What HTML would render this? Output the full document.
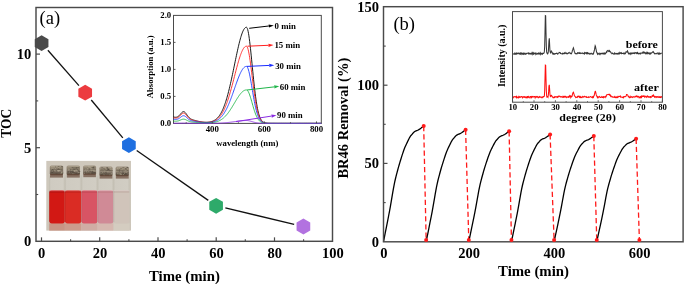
<!DOCTYPE html>
<html><head><meta charset="utf-8"><style>
html,body{margin:0;padding:0;background:#fff;}
svg{display:block;font-family:"Liberation Serif", serif;will-change:transform;}
</style></head><body>
<svg width="685" height="284" viewBox="0 0 685 284">
<rect width="685" height="284" fill="#fff"/>
<defs><linearGradient id="bg" x1="0" y1="0" x2="0" y2="1"><stop offset="0" stop-color="#cfc8bc"/><stop offset="0.5" stop-color="#cdc8bc"/><stop offset="1" stop-color="#cdc6ba"/></linearGradient><linearGradient id="gl" x1="0" y1="0" x2="1" y2="0"><stop offset="0" stop-color="#c0bcb0"/><stop offset="0.1" stop-color="#cfcbc1"/><stop offset="0.88" stop-color="#d1cdc3"/><stop offset="1" stop-color="#c4c0b4"/></linearGradient><linearGradient id="cap" x1="0" y1="0" x2="0" y2="1"><stop offset="0" stop-color="#9c9080"/><stop offset="0.3" stop-color="#8e8270"/><stop offset="0.55" stop-color="#83776a"/><stop offset="0.8" stop-color="#6a5e50"/><stop offset="1" stop-color="#665044"/></linearGradient></defs>
<rect x="46.3" y="160.9" width="84.7" height="69.7" fill="url(#bg)"/>
<rect x="49.2" y="223.2" width="15.7" height="7.4" fill="#c89484"/>
<rect x="49.2" y="174.7" width="15.7" height="48.4" rx="2" fill="url(#gl)"/>
<rect x="49.2" y="190.5" width="15.7" height="32.9" rx="2.6" fill="#d21814"/>
<rect x="49.5" y="190.5" width="15.1" height="0.9" fill="#e86068"/>
<rect x="49.5" y="191.4" width="15.1" height="1.1" fill="#a81010" opacity="0.8"/>
<rect x="49.2" y="191" width="0.8" height="31" fill="#000" opacity="0.08"/>
<rect x="49.8" y="165.5" width="13.4" height="9.7" rx="1.6" fill="url(#cap)"/>
<rect x="50.6" y="166.3" width="11.8" height="0.9" fill="#b8ae98" opacity="0.6"/>
<rect x="50.6" y="168.9" width="11.8" height="0.9" fill="#5e5648" opacity="0.3"/>
<rect x="50.6" y="170.3" width="11.8" height="0.9" fill="#aca28c" opacity="0.45"/>
<rect x="50.6" y="172.5" width="11.8" height="0.9" fill="#4e4034" opacity="0.4"/>
<rect x="55.5" y="170.3" width="1.3" height="0.7" fill="#52483c" opacity="0.6"/>
<rect x="60.2" y="167.5" width="1.3" height="0.7" fill="#a89e86" opacity="0.6"/>
<rect x="57.4" y="167.4" width="1.1" height="0.7" fill="#52483c" opacity="0.6"/>
<rect x="51.4" y="172.2" width="1.5" height="0.7" fill="#3a342c" opacity="0.6"/>
<rect x="57.2" y="169.1" width="1.6" height="0.7" fill="#52483c" opacity="0.6"/>
<rect x="57.4" y="167.2" width="1.8" height="0.7" fill="#cac0a8" opacity="0.6"/>
<rect x="51.0" y="166.3" width="1.5" height="0.7" fill="#b8ae96" opacity="0.6"/>
<rect x="59.3" y="168.5" width="1.8" height="0.7" fill="#a89e86" opacity="0.6"/>
<rect x="56.3" y="170.9" width="0.7" height="0.7" fill="#52483c" opacity="0.6"/>
<rect x="51.3" y="171.0" width="2.0" height="0.7" fill="#52483c" opacity="0.6"/>
<rect x="61.9" y="172.5" width="1.0" height="0.7" fill="#3a342c" opacity="0.6"/>
<rect x="59.1" y="169.9" width="0.8" height="0.7" fill="#cac0a8" opacity="0.6"/>
<rect x="59.2" y="169.1" width="1.2" height="0.7" fill="#463e32" opacity="0.6"/>
<rect x="61.4" y="172.5" width="1.0" height="0.7" fill="#cac0a8" opacity="0.6"/>
<rect x="61.1" y="166.4" width="2.0" height="0.7" fill="#52483c" opacity="0.6"/>
<rect x="54.9" y="166.6" width="1.0" height="0.7" fill="#3a342c" opacity="0.6"/>
<rect x="58.1" y="168.6" width="1.1" height="0.7" fill="#463e32" opacity="0.6"/>
<rect x="61.5" y="171.8" width="0.9" height="0.7" fill="#cac0a8" opacity="0.6"/>
<rect x="58.5" y="166.1" width="1.7" height="0.7" fill="#52483c" opacity="0.6"/>
<rect x="52.4" y="170.3" width="1.4" height="0.7" fill="#52483c" opacity="0.6"/>
<rect x="61.7" y="171.9" width="1.5" height="0.7" fill="#52483c" opacity="0.6"/>
<rect x="51.7" y="169.2" width="0.7" height="0.7" fill="#b8ae96" opacity="0.6"/>
<rect x="60.3" y="173.5" width="1.1" height="0.7" fill="#a89e86" opacity="0.6"/>
<rect x="60.6" y="167.6" width="2.0" height="0.7" fill="#52483c" opacity="0.6"/>
<rect x="57.3" y="170.4" width="2.0" height="0.7" fill="#cac0a8" opacity="0.6"/>
<rect x="52.8" y="168.0" width="1.1" height="0.7" fill="#a89e86" opacity="0.6"/>
<rect x="53.7" y="166.6" width="1.0" height="0.7" fill="#cac0a8" opacity="0.6"/>
<rect x="57.7" y="166.1" width="1.2" height="0.7" fill="#463e32" opacity="0.6"/>
<rect x="55.6" y="173.4" width="1.8" height="0.7" fill="#52483c" opacity="0.6"/>
<rect x="51.9" y="169.0" width="0.9" height="0.7" fill="#3a342c" opacity="0.6"/>
<rect x="60.8" y="172.3" width="1.6" height="0.7" fill="#b8ae96" opacity="0.6"/>
<rect x="52.1" y="170.8" width="1.0" height="0.7" fill="#a89e86" opacity="0.6"/>
<rect x="61.3" y="172.8" width="0.8" height="0.7" fill="#a89e86" opacity="0.6"/>
<rect x="50.8" y="166.8" width="2.0" height="0.7" fill="#a89e86" opacity="0.6"/>
<rect x="53.1" y="171.4" width="1.2" height="0.7" fill="#463e32" opacity="0.6"/>
<rect x="60.8" y="169.8" width="0.9" height="0.7" fill="#a89e86" opacity="0.6"/>
<rect x="58.7" y="166.5" width="1.3" height="0.7" fill="#b8ae96" opacity="0.6"/>
<rect x="57.9" y="170.7" width="1.1" height="0.7" fill="#cac0a8" opacity="0.6"/>
<rect x="60.9" y="167.6" width="0.8" height="0.7" fill="#cac0a8" opacity="0.6"/>
<rect x="55.1" y="167.9" width="0.9" height="0.7" fill="#cac0a8" opacity="0.6"/>
<rect x="54.6" y="170.4" width="0.8" height="0.7" fill="#b8ae96" opacity="0.6"/>
<rect x="51.9" y="169.5" width="1.6" height="0.7" fill="#463e32" opacity="0.6"/>
<rect x="58.3" y="170.5" width="1.5" height="0.7" fill="#b8ae96" opacity="0.6"/>
<rect x="61.0" y="169.7" width="1.6" height="0.7" fill="#463e32" opacity="0.6"/>
<rect x="61.5" y="166.2" width="0.8" height="0.7" fill="#3a342c" opacity="0.6"/>
<rect x="51.1" y="168.4" width="2.0" height="0.7" fill="#b8ae96" opacity="0.6"/>
<rect x="51.2" y="170.2" width="0.8" height="0.7" fill="#3a342c" opacity="0.6"/>
<rect x="61.2" y="171.7" width="1.7" height="0.7" fill="#b8ae96" opacity="0.6"/>
<rect x="50.0" y="174.2" width="13.0" height="3.4" fill="#604030" opacity="0.65"/>
<rect x="64.9" y="223.2" width="16.4" height="7.4" fill="#cc9c8c"/>
<rect x="64.9" y="174.7" width="16.4" height="48.4" rx="2" fill="url(#gl)"/>
<rect x="64.9" y="190.5" width="16.4" height="32.9" rx="2.6" fill="#da2c24"/>
<rect x="65.2" y="190.5" width="15.8" height="0.9" fill="#ea6a6a"/>
<rect x="65.2" y="191.4" width="15.8" height="1.1" fill="#b41c18" opacity="0.8"/>
<rect x="64.9" y="191" width="0.8" height="31" fill="#000" opacity="0.08"/>
<rect x="66.6" y="165.5" width="13.4" height="9.7" rx="1.6" fill="url(#cap)"/>
<rect x="67.4" y="166.3" width="11.8" height="0.9" fill="#b8ae98" opacity="0.6"/>
<rect x="67.4" y="168.9" width="11.8" height="0.9" fill="#5e5648" opacity="0.3"/>
<rect x="67.4" y="170.3" width="11.8" height="0.9" fill="#aca28c" opacity="0.45"/>
<rect x="67.4" y="172.5" width="11.8" height="0.9" fill="#4e4034" opacity="0.4"/>
<rect x="72.6" y="171.1" width="1.2" height="0.7" fill="#3a342c" opacity="0.6"/>
<rect x="71.5" y="173.7" width="1.1" height="0.7" fill="#52483c" opacity="0.6"/>
<rect x="76.5" y="171.3" width="1.0" height="0.7" fill="#a89e86" opacity="0.6"/>
<rect x="67.1" y="170.8" width="1.2" height="0.7" fill="#52483c" opacity="0.6"/>
<rect x="71.0" y="167.6" width="1.8" height="0.7" fill="#a89e86" opacity="0.6"/>
<rect x="68.0" y="171.3" width="1.6" height="0.7" fill="#463e32" opacity="0.6"/>
<rect x="76.4" y="166.7" width="1.8" height="0.7" fill="#cac0a8" opacity="0.6"/>
<rect x="74.8" y="167.7" width="1.9" height="0.7" fill="#52483c" opacity="0.6"/>
<rect x="68.4" y="169.3" width="1.4" height="0.7" fill="#b8ae96" opacity="0.6"/>
<rect x="77.3" y="170.3" width="1.9" height="0.7" fill="#3a342c" opacity="0.6"/>
<rect x="73.5" y="169.9" width="1.2" height="0.7" fill="#cac0a8" opacity="0.6"/>
<rect x="72.0" y="170.6" width="1.5" height="0.7" fill="#52483c" opacity="0.6"/>
<rect x="73.4" y="170.9" width="2.0" height="0.7" fill="#cac0a8" opacity="0.6"/>
<rect x="78.4" y="171.1" width="1.9" height="0.7" fill="#463e32" opacity="0.6"/>
<rect x="77.1" y="169.0" width="0.8" height="0.7" fill="#463e32" opacity="0.6"/>
<rect x="69.8" y="168.8" width="1.4" height="0.7" fill="#a89e86" opacity="0.6"/>
<rect x="76.0" y="167.4" width="1.8" height="0.7" fill="#52483c" opacity="0.6"/>
<rect x="72.1" y="170.0" width="1.6" height="0.7" fill="#b8ae96" opacity="0.6"/>
<rect x="67.6" y="167.6" width="0.8" height="0.7" fill="#a89e86" opacity="0.6"/>
<rect x="73.5" y="167.4" width="1.1" height="0.7" fill="#3a342c" opacity="0.6"/>
<rect x="72.1" y="169.8" width="1.5" height="0.7" fill="#a89e86" opacity="0.6"/>
<rect x="67.7" y="169.5" width="1.1" height="0.7" fill="#b8ae96" opacity="0.6"/>
<rect x="72.4" y="171.4" width="1.0" height="0.7" fill="#52483c" opacity="0.6"/>
<rect x="78.6" y="169.6" width="1.2" height="0.7" fill="#a89e86" opacity="0.6"/>
<rect x="69.3" y="171.8" width="0.7" height="0.7" fill="#a89e86" opacity="0.6"/>
<rect x="70.2" y="171.9" width="0.9" height="0.7" fill="#463e32" opacity="0.6"/>
<rect x="76.3" y="169.9" width="1.5" height="0.7" fill="#b8ae96" opacity="0.6"/>
<rect x="78.5" y="173.7" width="0.9" height="0.7" fill="#a89e86" opacity="0.6"/>
<rect x="77.9" y="172.8" width="1.8" height="0.7" fill="#3a342c" opacity="0.6"/>
<rect x="74.5" y="167.8" width="1.4" height="0.7" fill="#a89e86" opacity="0.6"/>
<rect x="72.8" y="168.7" width="1.9" height="0.7" fill="#3a342c" opacity="0.6"/>
<rect x="77.5" y="167.2" width="1.5" height="0.7" fill="#463e32" opacity="0.6"/>
<rect x="67.6" y="168.5" width="1.5" height="0.7" fill="#a89e86" opacity="0.6"/>
<rect x="72.3" y="172.1" width="1.1" height="0.7" fill="#3a342c" opacity="0.6"/>
<rect x="70.1" y="171.3" width="0.7" height="0.7" fill="#3a342c" opacity="0.6"/>
<rect x="73.6" y="168.0" width="1.0" height="0.7" fill="#b8ae96" opacity="0.6"/>
<rect x="72.1" y="173.5" width="1.4" height="0.7" fill="#a89e86" opacity="0.6"/>
<rect x="75.4" y="173.2" width="1.7" height="0.7" fill="#463e32" opacity="0.6"/>
<rect x="71.9" y="170.5" width="1.7" height="0.7" fill="#52483c" opacity="0.6"/>
<rect x="73.8" y="168.7" width="1.5" height="0.7" fill="#463e32" opacity="0.6"/>
<rect x="71.6" y="167.2" width="1.6" height="0.7" fill="#3a342c" opacity="0.6"/>
<rect x="77.6" y="172.1" width="1.9" height="0.7" fill="#cac0a8" opacity="0.6"/>
<rect x="73.3" y="172.1" width="1.7" height="0.7" fill="#52483c" opacity="0.6"/>
<rect x="75.3" y="167.5" width="1.9" height="0.7" fill="#463e32" opacity="0.6"/>
<rect x="75.1" y="170.2" width="1.5" height="0.7" fill="#a89e86" opacity="0.6"/>
<rect x="69.6" y="170.6" width="1.2" height="0.7" fill="#3a342c" opacity="0.6"/>
<rect x="70.0" y="169.1" width="0.8" height="0.7" fill="#463e32" opacity="0.6"/>
<rect x="71.0" y="171.3" width="1.1" height="0.7" fill="#3a342c" opacity="0.6"/>
<rect x="66.8" y="174.2" width="13.0" height="3.4" fill="#604030" opacity="0.65"/>
<rect x="81.3" y="223.2" width="16.2" height="7.4" fill="#d0aca4"/>
<rect x="81.3" y="174.3" width="16.2" height="48.8" rx="2" fill="url(#gl)"/>
<rect x="81.3" y="190.5" width="16.2" height="32.9" rx="2.6" fill="#d85464"/>
<rect x="81.6" y="190.5" width="15.6" height="0.9" fill="#ea8a98"/>
<rect x="81.6" y="191.4" width="15.6" height="1.1" fill="#b8404c" opacity="0.8"/>
<rect x="81.3" y="191" width="0.8" height="31" fill="#000" opacity="0.08"/>
<rect x="83.1" y="165.4" width="13.0" height="9.4" rx="1.6" fill="url(#cap)"/>
<rect x="83.9" y="166.2" width="11.4" height="0.9" fill="#b8ae98" opacity="0.6"/>
<rect x="83.9" y="168.8" width="11.4" height="0.9" fill="#5e5648" opacity="0.3"/>
<rect x="83.9" y="170.2" width="11.4" height="0.9" fill="#aca28c" opacity="0.45"/>
<rect x="83.9" y="172.4" width="11.4" height="0.9" fill="#4e4034" opacity="0.4"/>
<rect x="86.5" y="171.0" width="1.7" height="0.7" fill="#3a342c" opacity="0.6"/>
<rect x="93.6" y="170.7" width="0.9" height="0.7" fill="#3a342c" opacity="0.6"/>
<rect x="86.1" y="171.3" width="0.8" height="0.7" fill="#b8ae96" opacity="0.6"/>
<rect x="93.1" y="171.4" width="1.3" height="0.7" fill="#cac0a8" opacity="0.6"/>
<rect x="93.0" y="170.4" width="2.0" height="0.7" fill="#cac0a8" opacity="0.6"/>
<rect x="92.9" y="166.5" width="1.8" height="0.7" fill="#463e32" opacity="0.6"/>
<rect x="91.9" y="172.9" width="1.2" height="0.7" fill="#463e32" opacity="0.6"/>
<rect x="86.2" y="172.5" width="1.4" height="0.7" fill="#a89e86" opacity="0.6"/>
<rect x="88.4" y="168.6" width="1.5" height="0.7" fill="#52483c" opacity="0.6"/>
<rect x="90.9" y="168.5" width="1.7" height="0.7" fill="#a89e86" opacity="0.6"/>
<rect x="94.6" y="171.0" width="1.5" height="0.7" fill="#a89e86" opacity="0.6"/>
<rect x="94.7" y="169.2" width="1.3" height="0.7" fill="#3a342c" opacity="0.6"/>
<rect x="85.6" y="167.4" width="1.2" height="0.7" fill="#a89e86" opacity="0.6"/>
<rect x="87.8" y="167.8" width="1.2" height="0.7" fill="#463e32" opacity="0.6"/>
<rect x="85.1" y="169.5" width="1.4" height="0.7" fill="#b8ae96" opacity="0.6"/>
<rect x="93.5" y="171.1" width="0.8" height="0.7" fill="#b8ae96" opacity="0.6"/>
<rect x="90.9" y="173.0" width="0.7" height="0.7" fill="#52483c" opacity="0.6"/>
<rect x="88.4" y="172.3" width="0.9" height="0.7" fill="#b8ae96" opacity="0.6"/>
<rect x="92.6" y="172.1" width="1.0" height="0.7" fill="#3a342c" opacity="0.6"/>
<rect x="91.8" y="171.3" width="1.9" height="0.7" fill="#463e32" opacity="0.6"/>
<rect x="92.6" y="167.4" width="1.2" height="0.7" fill="#3a342c" opacity="0.6"/>
<rect x="91.6" y="166.9" width="1.5" height="0.7" fill="#3a342c" opacity="0.6"/>
<rect x="91.7" y="167.5" width="0.8" height="0.7" fill="#a89e86" opacity="0.6"/>
<rect x="91.5" y="166.2" width="1.6" height="0.7" fill="#a89e86" opacity="0.6"/>
<rect x="87.4" y="168.1" width="1.7" height="0.7" fill="#b8ae96" opacity="0.6"/>
<rect x="89.8" y="172.6" width="0.8" height="0.7" fill="#b8ae96" opacity="0.6"/>
<rect x="90.8" y="170.0" width="1.6" height="0.7" fill="#a89e86" opacity="0.6"/>
<rect x="94.5" y="172.0" width="0.8" height="0.7" fill="#3a342c" opacity="0.6"/>
<rect x="83.6" y="173.3" width="1.2" height="0.7" fill="#cac0a8" opacity="0.6"/>
<rect x="93.8" y="170.1" width="0.8" height="0.7" fill="#3a342c" opacity="0.6"/>
<rect x="88.9" y="168.6" width="0.7" height="0.7" fill="#cac0a8" opacity="0.6"/>
<rect x="87.3" y="169.6" width="1.4" height="0.7" fill="#a89e86" opacity="0.6"/>
<rect x="88.9" y="170.9" width="1.7" height="0.7" fill="#463e32" opacity="0.6"/>
<rect x="87.8" y="171.2" width="1.7" height="0.7" fill="#b8ae96" opacity="0.6"/>
<rect x="86.5" y="171.0" width="1.0" height="0.7" fill="#b8ae96" opacity="0.6"/>
<rect x="90.2" y="168.5" width="1.5" height="0.7" fill="#b8ae96" opacity="0.6"/>
<rect x="88.4" y="170.6" width="0.7" height="0.7" fill="#52483c" opacity="0.6"/>
<rect x="88.1" y="166.5" width="1.5" height="0.7" fill="#cac0a8" opacity="0.6"/>
<rect x="83.6" y="171.6" width="1.3" height="0.7" fill="#b8ae96" opacity="0.6"/>
<rect x="94.7" y="168.8" width="1.1" height="0.7" fill="#cac0a8" opacity="0.6"/>
<rect x="88.5" y="166.9" width="0.8" height="0.7" fill="#cac0a8" opacity="0.6"/>
<rect x="92.8" y="167.5" width="1.5" height="0.7" fill="#463e32" opacity="0.6"/>
<rect x="86.9" y="168.5" width="1.2" height="0.7" fill="#cac0a8" opacity="0.6"/>
<rect x="88.5" y="172.4" width="0.8" height="0.7" fill="#52483c" opacity="0.6"/>
<rect x="89.6" y="166.9" width="1.1" height="0.7" fill="#cac0a8" opacity="0.6"/>
<rect x="93.6" y="169.9" width="1.9" height="0.7" fill="#b8ae96" opacity="0.6"/>
<rect x="93.6" y="172.7" width="0.9" height="0.7" fill="#3a342c" opacity="0.6"/>
<rect x="89.0" y="168.7" width="1.0" height="0.7" fill="#463e32" opacity="0.6"/>
<rect x="83.3" y="173.8" width="12.6" height="3.4" fill="#604030" opacity="0.65"/>
<rect x="97.5" y="223.2" width="16.0" height="7.4" fill="#d6b8b0"/>
<rect x="97.5" y="175.7" width="16.0" height="47.4" rx="2" fill="url(#gl)"/>
<rect x="97.5" y="190.5" width="16.0" height="32.9" rx="2.6" fill="#d08a96"/>
<rect x="97.8" y="190.5" width="15.4" height="0.9" fill="#e4b0b8"/>
<rect x="97.8" y="191.4" width="15.4" height="1.1" fill="#b87078" opacity="0.8"/>
<rect x="97.5" y="191" width="0.8" height="31" fill="#000" opacity="0.08"/>
<rect x="99.4" y="166.6" width="13.2" height="9.6" rx="1.6" fill="url(#cap)"/>
<rect x="100.2" y="167.4" width="11.6" height="0.9" fill="#b8ae98" opacity="0.6"/>
<rect x="100.2" y="170.0" width="11.6" height="0.9" fill="#5e5648" opacity="0.3"/>
<rect x="100.2" y="171.4" width="11.6" height="0.9" fill="#aca28c" opacity="0.45"/>
<rect x="100.2" y="173.6" width="11.6" height="0.9" fill="#4e4034" opacity="0.4"/>
<rect x="101.1" y="172.4" width="1.4" height="0.7" fill="#3a342c" opacity="0.6"/>
<rect x="102.7" y="172.7" width="1.7" height="0.7" fill="#463e32" opacity="0.6"/>
<rect x="107.4" y="169.4" width="1.8" height="0.7" fill="#3a342c" opacity="0.6"/>
<rect x="104.4" y="174.0" width="1.0" height="0.7" fill="#463e32" opacity="0.6"/>
<rect x="110.2" y="169.8" width="1.2" height="0.7" fill="#463e32" opacity="0.6"/>
<rect x="107.1" y="171.0" width="1.4" height="0.7" fill="#b8ae96" opacity="0.6"/>
<rect x="107.5" y="168.4" width="0.8" height="0.7" fill="#3a342c" opacity="0.6"/>
<rect x="106.7" y="167.3" width="1.0" height="0.7" fill="#463e32" opacity="0.6"/>
<rect x="111.0" y="170.2" width="1.9" height="0.7" fill="#52483c" opacity="0.6"/>
<rect x="101.0" y="172.0" width="1.5" height="0.7" fill="#cac0a8" opacity="0.6"/>
<rect x="107.2" y="169.9" width="1.7" height="0.7" fill="#cac0a8" opacity="0.6"/>
<rect x="105.4" y="172.2" width="1.3" height="0.7" fill="#463e32" opacity="0.6"/>
<rect x="102.4" y="173.2" width="1.0" height="0.7" fill="#a89e86" opacity="0.6"/>
<rect x="101.3" y="174.7" width="1.1" height="0.7" fill="#463e32" opacity="0.6"/>
<rect x="100.2" y="172.7" width="1.6" height="0.7" fill="#cac0a8" opacity="0.6"/>
<rect x="106.6" y="170.3" width="0.9" height="0.7" fill="#3a342c" opacity="0.6"/>
<rect x="104.3" y="169.5" width="1.3" height="0.7" fill="#52483c" opacity="0.6"/>
<rect x="106.7" y="167.8" width="1.2" height="0.7" fill="#52483c" opacity="0.6"/>
<rect x="105.0" y="171.8" width="0.8" height="0.7" fill="#52483c" opacity="0.6"/>
<rect x="101.5" y="172.4" width="1.3" height="0.7" fill="#a89e86" opacity="0.6"/>
<rect x="109.3" y="170.2" width="0.7" height="0.7" fill="#52483c" opacity="0.6"/>
<rect x="108.0" y="169.9" width="1.0" height="0.7" fill="#52483c" opacity="0.6"/>
<rect x="103.3" y="168.5" width="1.4" height="0.7" fill="#3a342c" opacity="0.6"/>
<rect x="109.0" y="167.8" width="0.7" height="0.7" fill="#cac0a8" opacity="0.6"/>
<rect x="103.5" y="174.6" width="1.4" height="0.7" fill="#a89e86" opacity="0.6"/>
<rect x="105.8" y="173.2" width="0.8" height="0.7" fill="#463e32" opacity="0.6"/>
<rect x="110.8" y="173.0" width="1.0" height="0.7" fill="#cac0a8" opacity="0.6"/>
<rect x="109.9" y="169.1" width="1.0" height="0.7" fill="#b8ae96" opacity="0.6"/>
<rect x="107.7" y="169.6" width="1.7" height="0.7" fill="#3a342c" opacity="0.6"/>
<rect x="104.1" y="171.4" width="1.7" height="0.7" fill="#a89e86" opacity="0.6"/>
<rect x="108.9" y="168.3" width="1.8" height="0.7" fill="#3a342c" opacity="0.6"/>
<rect x="104.1" y="170.0" width="1.4" height="0.7" fill="#52483c" opacity="0.6"/>
<rect x="108.7" y="169.5" width="0.7" height="0.7" fill="#a89e86" opacity="0.6"/>
<rect x="107.2" y="170.4" width="0.8" height="0.7" fill="#463e32" opacity="0.6"/>
<rect x="109.1" y="168.1" width="1.6" height="0.7" fill="#cac0a8" opacity="0.6"/>
<rect x="101.5" y="169.1" width="0.9" height="0.7" fill="#52483c" opacity="0.6"/>
<rect x="110.1" y="167.5" width="1.0" height="0.7" fill="#cac0a8" opacity="0.6"/>
<rect x="104.1" y="170.3" width="1.3" height="0.7" fill="#b8ae96" opacity="0.6"/>
<rect x="100.9" y="173.2" width="0.9" height="0.7" fill="#b8ae96" opacity="0.6"/>
<rect x="107.5" y="168.8" width="1.8" height="0.7" fill="#3a342c" opacity="0.6"/>
<rect x="109.2" y="174.7" width="1.6" height="0.7" fill="#a89e86" opacity="0.6"/>
<rect x="106.3" y="167.5" width="1.3" height="0.7" fill="#52483c" opacity="0.6"/>
<rect x="110.8" y="169.6" width="1.8" height="0.7" fill="#cac0a8" opacity="0.6"/>
<rect x="100.6" y="172.3" width="1.4" height="0.7" fill="#3a342c" opacity="0.6"/>
<rect x="101.0" y="173.7" width="1.8" height="0.7" fill="#52483c" opacity="0.6"/>
<rect x="101.2" y="167.5" width="1.9" height="0.7" fill="#3a342c" opacity="0.6"/>
<rect x="100.7" y="173.1" width="0.8" height="0.7" fill="#463e32" opacity="0.6"/>
<rect x="111.1" y="173.8" width="0.7" height="0.7" fill="#b8ae96" opacity="0.6"/>
<rect x="99.6" y="175.2" width="12.8" height="3.4" fill="#604030" opacity="0.65"/>
<rect x="113.5" y="223.2" width="16.1" height="7.4" fill="#d4ccc0"/>
<rect x="113.5" y="175.7" width="16.1" height="47.4" rx="2" fill="url(#gl)"/>
<rect x="113.5" y="190.5" width="16.1" height="32.9" rx="2.6" fill="#d0c4ba"/>
<rect x="113.8" y="190.5" width="15.5" height="0.9" fill="#dccac6"/>
<rect x="113.8" y="191.4" width="15.5" height="1.1" fill="#b8a49c" opacity="0.8"/>
<rect x="113.5" y="191" width="0.8" height="31" fill="#000" opacity="0.08"/>
<rect x="115.6" y="166.6" width="13.3" height="9.6" rx="1.6" fill="url(#cap)"/>
<rect x="116.4" y="167.4" width="11.7" height="0.9" fill="#b8ae98" opacity="0.6"/>
<rect x="116.4" y="170.0" width="11.7" height="0.9" fill="#5e5648" opacity="0.3"/>
<rect x="116.4" y="171.4" width="11.7" height="0.9" fill="#aca28c" opacity="0.45"/>
<rect x="116.4" y="173.6" width="11.7" height="0.9" fill="#4e4034" opacity="0.4"/>
<rect x="127.2" y="167.2" width="0.7" height="0.7" fill="#3a342c" opacity="0.6"/>
<rect x="126.6" y="168.9" width="1.8" height="0.7" fill="#cac0a8" opacity="0.6"/>
<rect x="123.9" y="173.6" width="1.0" height="0.7" fill="#463e32" opacity="0.6"/>
<rect x="120.0" y="172.5" width="1.2" height="0.7" fill="#463e32" opacity="0.6"/>
<rect x="120.1" y="174.2" width="1.8" height="0.7" fill="#b8ae96" opacity="0.6"/>
<rect x="125.3" y="168.8" width="1.4" height="0.7" fill="#3a342c" opacity="0.6"/>
<rect x="118.8" y="170.6" width="1.3" height="0.7" fill="#52483c" opacity="0.6"/>
<rect x="121.4" y="173.2" width="1.4" height="0.7" fill="#52483c" opacity="0.6"/>
<rect x="126.8" y="172.0" width="1.7" height="0.7" fill="#52483c" opacity="0.6"/>
<rect x="125.4" y="167.6" width="1.0" height="0.7" fill="#cac0a8" opacity="0.6"/>
<rect x="122.2" y="171.8" width="1.8" height="0.7" fill="#3a342c" opacity="0.6"/>
<rect x="116.3" y="171.1" width="1.9" height="0.7" fill="#b8ae96" opacity="0.6"/>
<rect x="117.2" y="168.0" width="0.8" height="0.7" fill="#cac0a8" opacity="0.6"/>
<rect x="124.4" y="174.1" width="1.2" height="0.7" fill="#463e32" opacity="0.6"/>
<rect x="121.9" y="168.5" width="1.2" height="0.7" fill="#a89e86" opacity="0.6"/>
<rect x="118.8" y="169.5" width="1.1" height="0.7" fill="#3a342c" opacity="0.6"/>
<rect x="126.5" y="169.7" width="1.7" height="0.7" fill="#52483c" opacity="0.6"/>
<rect x="124.8" y="173.5" width="1.3" height="0.7" fill="#463e32" opacity="0.6"/>
<rect x="117.4" y="170.8" width="0.7" height="0.7" fill="#52483c" opacity="0.6"/>
<rect x="119.1" y="174.5" width="1.1" height="0.7" fill="#cac0a8" opacity="0.6"/>
<rect x="116.6" y="173.9" width="0.9" height="0.7" fill="#463e32" opacity="0.6"/>
<rect x="121.8" y="170.8" width="0.8" height="0.7" fill="#52483c" opacity="0.6"/>
<rect x="116.8" y="173.5" width="1.9" height="0.7" fill="#a89e86" opacity="0.6"/>
<rect x="118.8" y="172.8" width="1.6" height="0.7" fill="#52483c" opacity="0.6"/>
<rect x="119.0" y="167.7" width="0.8" height="0.7" fill="#cac0a8" opacity="0.6"/>
<rect x="124.8" y="173.4" width="1.2" height="0.7" fill="#52483c" opacity="0.6"/>
<rect x="123.2" y="172.5" width="1.3" height="0.7" fill="#a89e86" opacity="0.6"/>
<rect x="122.4" y="167.3" width="1.9" height="0.7" fill="#52483c" opacity="0.6"/>
<rect x="126.4" y="167.2" width="1.9" height="0.7" fill="#3a342c" opacity="0.6"/>
<rect x="123.2" y="174.0" width="0.9" height="0.7" fill="#cac0a8" opacity="0.6"/>
<rect x="119.0" y="174.6" width="1.1" height="0.7" fill="#463e32" opacity="0.6"/>
<rect x="118.9" y="171.6" width="1.1" height="0.7" fill="#52483c" opacity="0.6"/>
<rect x="123.1" y="172.4" width="1.9" height="0.7" fill="#463e32" opacity="0.6"/>
<rect x="125.9" y="172.0" width="1.6" height="0.7" fill="#a89e86" opacity="0.6"/>
<rect x="117.3" y="173.4" width="1.2" height="0.7" fill="#a89e86" opacity="0.6"/>
<rect x="126.2" y="173.6" width="0.8" height="0.7" fill="#463e32" opacity="0.6"/>
<rect x="120.1" y="172.7" width="1.5" height="0.7" fill="#a89e86" opacity="0.6"/>
<rect x="122.7" y="168.0" width="0.7" height="0.7" fill="#a89e86" opacity="0.6"/>
<rect x="125.1" y="168.3" width="1.3" height="0.7" fill="#3a342c" opacity="0.6"/>
<rect x="117.9" y="168.6" width="1.4" height="0.7" fill="#a89e86" opacity="0.6"/>
<rect x="124.7" y="169.9" width="2.0" height="0.7" fill="#b8ae96" opacity="0.6"/>
<rect x="123.5" y="171.9" width="1.6" height="0.7" fill="#a89e86" opacity="0.6"/>
<rect x="122.9" y="173.4" width="1.7" height="0.7" fill="#3a342c" opacity="0.6"/>
<rect x="120.0" y="173.7" width="1.6" height="0.7" fill="#a89e86" opacity="0.6"/>
<rect x="120.8" y="169.2" width="1.7" height="0.7" fill="#b8ae96" opacity="0.6"/>
<rect x="120.2" y="168.5" width="1.9" height="0.7" fill="#52483c" opacity="0.6"/>
<rect x="124.1" y="173.1" width="0.8" height="0.7" fill="#cac0a8" opacity="0.6"/>
<rect x="119.0" y="172.8" width="1.7" height="0.7" fill="#cac0a8" opacity="0.6"/>
<rect x="115.8" y="175.2" width="12.9" height="3.4" fill="#604030" opacity="0.65"/>
<line x1="47.87" y1="50.24" x2="78.93" y2="85.56" stroke="#111" stroke-width="1.3"/>
<line x1="91.28" y1="100.00" x2="122.82" y2="137.80" stroke="#111" stroke-width="1.3"/>
<line x1="136.70" y1="150.53" x2="208.30" y2="200.37" stroke="#111" stroke-width="1.3"/>
<line x1="225.34" y1="207.99" x2="294.16" y2="224.31" stroke="#111" stroke-width="1.3"/>
<path d="M41.6 51 L34.76 47.05 L34.76 39.15 L41.6 35.2 L48.44 39.15 L48.44 47.05 Z" fill="#4a4a4a"/>
<path d="M85.2 100.6 L78.36 96.65 L78.36 88.75 L85.2 84.8 L92.04 88.75 L92.04 96.65 Z" fill="#ec3b3f"/>
<path d="M128.9 153 L122.06 149.05 L122.06 141.15 L128.9 137.2 L135.74 141.15 L135.74 149.05 Z" fill="#1f6fe0"/>
<path d="M216.1 213.7 L209.26 209.75 L209.26 201.85 L216.1 197.9 L222.94 201.85 L222.94 209.75 Z" fill="#2eaa6a"/>
<path d="M303.4 234.4 L296.56 230.45 L296.56 222.55 L303.4 218.6 L310.24 222.55 L310.24 230.45 Z" fill="#b272e0"/>
<rect x="36.0" y="7.5" width="296.5" height="233.8" fill="none" stroke="#4a4a4a" stroke-width="1.45"/>
<line x1="36.0" y1="147.7" x2="40.0" y2="147.7" stroke="#4a4a4a" stroke-width="1.2"/>
<line x1="36.0" y1="54.1" x2="40.0" y2="54.1" stroke="#4a4a4a" stroke-width="1.2"/>
<line x1="36.0" y1="194.5" x2="38.2" y2="194.5" stroke="#4a4a4a" stroke-width="1.1"/>
<line x1="36.0" y1="100.9" x2="38.2" y2="100.9" stroke="#4a4a4a" stroke-width="1.1"/>
<line x1="41.5" y1="241.35" x2="41.5" y2="237.35" stroke="#4a4a4a" stroke-width="1.2"/>
<line x1="99.7" y1="241.35" x2="99.7" y2="237.35" stroke="#4a4a4a" stroke-width="1.2"/>
<line x1="158.0" y1="241.35" x2="158.0" y2="237.35" stroke="#4a4a4a" stroke-width="1.2"/>
<line x1="216.2" y1="241.35" x2="216.2" y2="237.35" stroke="#4a4a4a" stroke-width="1.2"/>
<line x1="274.5" y1="241.35" x2="274.5" y2="237.35" stroke="#4a4a4a" stroke-width="1.2"/>
<line x1="70.6" y1="241.35" x2="70.6" y2="239.15" stroke="#4a4a4a" stroke-width="1.1"/>
<line x1="128.9" y1="241.35" x2="128.9" y2="239.15" stroke="#4a4a4a" stroke-width="1.1"/>
<line x1="187.1" y1="241.35" x2="187.1" y2="239.15" stroke="#4a4a4a" stroke-width="1.1"/>
<line x1="245.3" y1="241.35" x2="245.3" y2="239.15" stroke="#4a4a4a" stroke-width="1.1"/>
<line x1="303.6" y1="241.35" x2="303.6" y2="239.15" stroke="#4a4a4a" stroke-width="1.1"/>
<text x="31.2" y="246.3" font-size="14.5" text-anchor="end" font-weight="bold" fill="#000" >0</text>
<text x="31.2" y="152.7" font-size="14.5" text-anchor="end" font-weight="bold" fill="#000" >5</text>
<text x="31.2" y="59.1" font-size="14.5" text-anchor="end" font-weight="bold" fill="#000" >10</text>
<text x="41.7" y="257.8" font-size="14.5" text-anchor="middle" font-weight="bold" fill="#000" >0</text>
<text x="99.94" y="257.8" font-size="14.5" text-anchor="middle" font-weight="bold" fill="#000" >20</text>
<text x="158.18" y="257.8" font-size="14.5" text-anchor="middle" font-weight="bold" fill="#000" >40</text>
<text x="216.42" y="257.8" font-size="14.5" text-anchor="middle" font-weight="bold" fill="#000" >60</text>
<text x="274.66" y="257.8" font-size="14.5" text-anchor="middle" font-weight="bold" fill="#000" >80</text>
<text x="332.9" y="257.8" font-size="14.5" text-anchor="middle" font-weight="bold" fill="#000" >100</text>
<text x="184.4" y="280.5" font-size="14.8" text-anchor="middle" font-weight="bold" fill="#000" >Time (min)</text>
<text transform="translate(11.4,123.3) rotate(-90) scale(0.93,1)" font-size="14.4" text-anchor="middle" font-weight="bold">TOC</text>
<text x="39.6" y="24.3" font-size="18.5" text-anchor="start" font-weight="normal" fill="#000" >(a)</text>
<rect x="173.5" y="15.4" width="147.8" height="108.0" fill="none" stroke="#4a4a4a" stroke-width="1"/>
<g fill="none" stroke-width="0.9">
<path d="M173.49 116.97 L173.88 117.07 L174.27 117.14 L174.66 117.21 L175.05 117.25 L175.44 117.27 L175.83 117.27 L176.22 117.24 L176.61 117.17 L177 117.06 L177.39 116.91 L177.78 116.71 L178.17 116.46 L178.57 116.16 L178.96 115.82 L179.35 115.42 L179.74 114.99 L180.13 114.53 L180.52 114.05 L180.91 113.57 L181.3 113.1 L181.69 112.67 L182.08 112.3 L182.47 111.99 L182.86 111.77 L183.25 111.64 L183.65 111.61 L184.04 111.7 L184.43 111.89 L184.82 112.17 L185.21 112.54 L185.6 112.99 L185.99 113.49 L186.38 114.03 L186.77 114.59 L187.16 115.15 L187.55 115.7 L187.94 116.23 L188.33 116.73 L188.72 117.19 L189.12 117.6 L189.51 117.97 L189.9 118.3 L190.29 118.59 L190.68 118.85 L191.07 119.07 L191.46 119.27 L191.85 119.44 L192.24 119.6 L192.63 119.74 L193.02 119.88 L193.41 120 L193.8 120.12 L194.2 120.23 L194.59 120.34 L194.98 120.45 L195.37 120.56 L195.76 120.66 L196.15 120.76 L196.54 120.86 L196.93 120.96 L197.32 121.05 L197.71 121.15 L198.1 121.24 L198.49 121.33 L198.88 121.41 L199.28 121.49 L199.67 121.57 L200.06 121.65 L200.45 121.72 L200.84 121.79 L201.23 121.85 L201.62 121.91 L202.01 121.97 L202.4 122.02 L202.79 122.07 L203.18 122.11 L203.57 122.14 L203.96 122.18 L204.35 122.21 L204.75 122.23 L205.14 122.25 L205.53 122.26 L205.92 122.26 L206.31 122.27 L206.7 122.26 L207.09 122.25 L207.48 122.23 L207.87 122.21 L208.26 122.17 L208.65 122.13 L209.04 122.09 L209.43 122.03 L209.83 121.97 L210.22 121.89 L210.61 121.81 L211 121.71 L211.39 121.61 L211.78 121.49 L212.17 121.36 L212.56 121.22 L212.95 121.06 L213.34 120.89 L213.73 120.71 L214.12 120.5 L214.51 120.28 L214.91 120.04 L215.3 119.79 L215.69 119.51 L216.08 119.21 L216.47 118.88 L216.86 118.53 L217.25 118.16 L217.64 117.76 L218.03 117.34 L218.42 116.88 L218.81 116.4 L219.2 115.88 L219.59 115.33 L219.98 114.75 L220.38 114.13 L220.77 113.48 L221.16 112.79 L221.55 112.06 L221.94 111.29 L222.33 110.48 L222.72 109.63 L223.11 108.74 L223.5 107.8 L223.89 106.82 L224.28 105.8 L224.67 104.73 L225.06 103.62 L225.46 102.46 L225.85 101.25 L226.24 100 L226.63 98.71 L227.02 97.37 L227.41 95.98 L227.8 94.55 L228.19 93.08 L228.58 91.56 L228.97 90 L229.36 88.41 L229.75 86.77 L230.14 85.1 L230.54 83.39 L230.93 81.65 L231.32 79.89 L231.71 78.09 L232.1 76.27 L232.49 74.43 L232.88 72.57 L233.27 70.7 L233.66 68.81 L234.05 66.92 L234.44 65.02 L234.83 63.12 L235.22 61.23 L235.61 59.34 L236.01 57.47 L236.4 55.61 L236.79 53.78 L237.18 51.97 L237.57 50.19 L237.96 48.45 L238.35 46.74 L238.74 45.08 L239.13 43.48 L239.52 41.92 L239.91 40.42 L240.3 38.98 L240.69 37.61 L241.09 36.31 L241.48 35.09 L241.87 33.94 L242.26 32.87 L242.65 31.89 L243.04 31 L243.43 30.19 L243.82 29.48 L244.21 28.87 L244.6 28.35 L244.99 27.93 L245.38 27.6 L245.77 27.38 L246.17 27.27 L246.56 27.27 L246.95 27.64 L247.34 28.46 L247.73 29.7 L248.12 31.35 L248.51 33.4 L248.9 35.81 L249.29 38.55 L249.68 41.58 L250.07 44.87 L250.46 48.38 L250.85 52.06 L251.24 55.88 L251.64 59.79 L252.03 63.75 L252.42 67.72 L252.81 71.67 L253.2 75.57 L253.59 79.37 L253.98 83.06 L254.37 86.61 L254.76 90.01 L255.15 93.23 L255.54 96.27 L255.93 99.11 L256.32 101.76 L256.72 104.2 L257.11 106.45 L257.5 108.51 L257.89 110.38 L258.28 112.06 L258.67 113.57 L259.06 114.92 L259.45 116.12 L259.84 117.18 L260.23 118.11 L260.62 118.92 L261.01 119.62 L261.4 120.23 L261.8 120.75 L262.19 121.2 L262.58 121.58 L262.97 121.9 L263.36 122.17 L263.75 122.39 L264.14 122.58 L264.53 122.74 L264.92 122.86 L265.31 122.97 L265.7 123.05 L266.09 123.12 L266.48 123.18 L266.87 123.23 L267.27 123.26 L267.66 123.29 L268.05 123.31 L268.44 123.33 L268.83 123.35 L269.22 123.36 L269.61 123.37 L270 123.37 L270.39 123.38 L270.78 123.38 L271.17 123.39 L271.56 123.39 L271.95 123.39 L272.35 123.39 L272.74 123.39 L273.13 123.39 L273.52 123.39 L273.91 123.39 L274.3 123.39 L274.69 123.39 L275.08 123.39 L275.47 123.4 L275.86 123.4 L276.25 123.4 L276.64 123.4 L277.03 123.4 L277.43 123.4 L277.82 123.4 L278.21 123.4 L278.6 123.4 L278.99 123.4 L279.38 123.4 L279.77 123.4 L280.16 123.4 L280.55 123.4 L280.94 123.4 L281.33 123.4 L281.72 123.4 L282.11 123.4 L282.5 123.4 L282.9 123.4 L283.29 123.4 L283.68 123.4 L284.07 123.4 L284.46 123.4 L284.85 123.4 L285.24 123.4 L285.63 123.4 L286.02 123.4 L286.41 123.4 L286.8 123.4 L287.19 123.4 L287.58 123.4 L287.98 123.4 L288.37 123.4 L288.76 123.4 L289.15 123.4 L289.54 123.4 L289.93 123.4 L290.32 123.4 L290.71 123.4 L291.1 123.4 L291.49 123.4 L291.88 123.4 L292.27 123.4 L292.66 123.4 L293.06 123.4 L293.45 123.4 L293.84 123.4 L294.23 123.4 L294.62 123.4 L295.01 123.4 L295.4 123.4 L295.79 123.4 L296.18 123.4 L296.57 123.4 L296.96 123.4 L297.35 123.4 L297.74 123.4 L298.13 123.4 L298.53 123.4 L298.92 123.4 L299.31 123.4 L299.7 123.4 L300.09 123.4 L300.48 123.4 L300.87 123.4 L301.26 123.4 L301.65 123.4 L302.04 123.4 L302.43 123.4 L302.82 123.4 L303.21 123.4 L303.61 123.4 L304 123.4 L304.39 123.4 L304.78 123.4 L305.17 123.4 L305.56 123.4 L305.95 123.4 L306.34 123.4 L306.73 123.4 L307.12 123.4 L307.51 123.4 L307.9 123.4 L308.29 123.4 L308.69 123.4 L309.08 123.4 L309.47 123.4 L309.86 123.4 L310.25 123.4 L310.64 123.4 L311.03 123.4 L311.42 123.4 L311.81 123.4 L312.2 123.4 L312.59 123.4 L312.98 123.4 L313.37 123.4 L313.76 123.4 L314.16 123.4 L314.55 123.4 L314.94 123.4 L315.33 123.4 L315.72 123.4 L316.11 123.4 L316.5 123.4 L316.89 123.4 L317.28 123.4 L317.67 123.4 L318.06 123.4 L318.45 123.4 L318.84 123.4 L319.24 123.4 L319.63 123.4 L320.02 123.4 L320.41 123.4 L320.8 123.4 L321.19 123.4" stroke="#000"/>
<path d="M173.49 117.81 L173.88 117.89 L174.27 117.96 L174.66 118.01 L175.05 118.05 L175.44 118.07 L175.83 118.07 L176.22 118.04 L176.61 117.98 L177 117.88 L177.39 117.75 L177.78 117.58 L178.17 117.36 L178.57 117.11 L178.96 116.8 L179.35 116.46 L179.74 116.08 L180.13 115.68 L180.52 115.26 L180.91 114.85 L181.3 114.44 L181.69 114.07 L182.08 113.74 L182.47 113.47 L182.86 113.28 L183.25 113.17 L183.65 113.15 L184.04 113.22 L184.43 113.38 L184.82 113.63 L185.21 113.96 L185.6 114.34 L185.99 114.78 L186.38 115.25 L186.77 115.73 L187.16 116.22 L187.55 116.7 L187.94 117.16 L188.33 117.6 L188.72 117.99 L189.12 118.35 L189.51 118.68 L189.9 118.96 L190.29 119.22 L190.68 119.44 L191.07 119.63 L191.46 119.8 L191.85 119.96 L192.24 120.09 L192.63 120.22 L193.02 120.33 L193.41 120.44 L193.8 120.55 L194.2 120.64 L194.59 120.74 L194.98 120.83 L195.37 120.93 L195.76 121.02 L196.15 121.11 L196.54 121.19 L196.93 121.28 L197.32 121.36 L197.71 121.44 L198.1 121.52 L198.49 121.6 L198.88 121.67 L199.28 121.74 L199.67 121.81 L200.06 121.88 L200.45 121.94 L200.84 122 L201.23 122.06 L201.62 122.11 L202.01 122.16 L202.4 122.21 L202.79 122.25 L203.18 122.28 L203.57 122.32 L203.96 122.35 L204.35 122.37 L204.75 122.4 L205.14 122.41 L205.53 122.43 L205.92 122.43 L206.31 122.44 L206.7 122.43 L207.09 122.43 L207.48 122.42 L207.87 122.4 L208.26 122.37 L208.65 122.34 L209.04 122.31 L209.43 122.26 L209.83 122.21 L210.22 122.16 L210.61 122.09 L211 122.02 L211.39 121.93 L211.78 121.84 L212.17 121.74 L212.56 121.62 L212.95 121.5 L213.34 121.36 L213.73 121.21 L214.12 121.05 L214.51 120.87 L214.91 120.68 L215.3 120.48 L215.69 120.25 L216.08 120.01 L216.47 119.75 L216.86 119.47 L217.25 119.17 L217.64 118.85 L218.03 118.51 L218.42 118.15 L218.81 117.76 L219.2 117.34 L219.59 116.9 L219.98 116.44 L220.38 115.94 L220.77 115.42 L221.16 114.86 L221.55 114.28 L221.94 113.66 L222.33 113.01 L222.72 112.33 L223.11 111.61 L223.5 110.86 L223.89 110.08 L224.28 109.26 L224.67 108.4 L225.06 107.5 L225.46 106.57 L225.85 105.61 L226.24 104.6 L226.63 103.56 L227.02 102.48 L227.41 101.37 L227.8 100.22 L228.19 99.04 L228.58 97.82 L228.97 96.57 L229.36 95.29 L229.75 93.98 L230.14 92.64 L230.54 91.27 L230.93 89.87 L231.32 88.45 L231.71 87.01 L232.1 85.55 L232.49 84.07 L232.88 82.58 L233.27 81.07 L233.66 79.56 L234.05 78.04 L234.44 76.51 L234.83 74.99 L235.22 73.47 L235.61 71.95 L236.01 70.45 L236.4 68.96 L236.79 67.49 L237.18 66.03 L237.57 64.61 L237.96 63.21 L238.35 61.84 L238.74 60.51 L239.13 59.22 L239.52 57.97 L239.91 56.76 L240.3 55.61 L240.69 54.51 L241.09 53.47 L241.48 52.48 L241.87 51.56 L242.26 50.7 L242.65 49.92 L243.04 49.2 L243.43 48.55 L243.82 47.98 L244.21 47.49 L244.6 47.07 L244.99 46.73 L245.38 46.47 L245.77 46.3 L246.17 46.2 L246.56 46.2 L246.95 46.5 L247.34 47.16 L247.73 48.16 L248.12 49.48 L248.51 51.13 L248.9 53.06 L249.29 55.26 L249.68 57.7 L250.07 60.34 L250.46 63.16 L250.85 66.11 L251.24 69.18 L251.64 72.32 L252.03 75.5 L252.42 78.69 L252.81 81.86 L253.2 84.99 L253.59 88.04 L253.98 91.01 L254.37 93.86 L254.76 96.58 L255.15 99.17 L255.54 101.61 L255.93 103.89 L256.32 106.02 L256.72 107.98 L257.11 109.79 L257.5 111.44 L257.89 112.94 L258.28 114.29 L258.67 115.51 L259.06 116.59 L259.45 117.55 L259.84 118.4 L260.23 119.15 L260.62 119.8 L261.01 120.36 L261.4 120.85 L261.8 121.27 L262.19 121.63 L262.58 121.93 L262.97 122.19 L263.36 122.41 L263.75 122.59 L264.14 122.74 L264.53 122.87 L264.92 122.97 L265.31 123.05 L265.7 123.12 L266.09 123.18 L266.48 123.22 L266.87 123.26 L267.27 123.29 L267.66 123.31 L268.05 123.33 L268.44 123.35 L268.83 123.36 L269.22 123.37 L269.61 123.37 L270 123.38 L270.39 123.38 L270.78 123.39 L271.17 123.39 L271.56 123.39 L271.95 123.39 L272.35 123.39 L272.74 123.39 L273.13 123.39 L273.52 123.39 L273.91 123.39 L274.3 123.39 L274.69 123.4 L275.08 123.4 L275.47 123.4 L275.86 123.4 L276.25 123.4 L276.64 123.4 L277.03 123.4 L277.43 123.4 L277.82 123.4 L278.21 123.4 L278.6 123.4 L278.99 123.4 L279.38 123.4 L279.77 123.4 L280.16 123.4 L280.55 123.4 L280.94 123.4 L281.33 123.4 L281.72 123.4 L282.11 123.4 L282.5 123.4 L282.9 123.4 L283.29 123.4 L283.68 123.4 L284.07 123.4 L284.46 123.4 L284.85 123.4 L285.24 123.4 L285.63 123.4 L286.02 123.4 L286.41 123.4 L286.8 123.4 L287.19 123.4 L287.58 123.4 L287.98 123.4 L288.37 123.4 L288.76 123.4 L289.15 123.4 L289.54 123.4 L289.93 123.4 L290.32 123.4 L290.71 123.4 L291.1 123.4 L291.49 123.4 L291.88 123.4 L292.27 123.4 L292.66 123.4 L293.06 123.4 L293.45 123.4 L293.84 123.4 L294.23 123.4 L294.62 123.4 L295.01 123.4 L295.4 123.4 L295.79 123.4 L296.18 123.4 L296.57 123.4 L296.96 123.4 L297.35 123.4 L297.74 123.4 L298.13 123.4 L298.53 123.4 L298.92 123.4 L299.31 123.4 L299.7 123.4 L300.09 123.4 L300.48 123.4 L300.87 123.4 L301.26 123.4 L301.65 123.4 L302.04 123.4 L302.43 123.4 L302.82 123.4 L303.21 123.4 L303.61 123.4 L304 123.4 L304.39 123.4 L304.78 123.4 L305.17 123.4 L305.56 123.4 L305.95 123.4 L306.34 123.4 L306.73 123.4 L307.12 123.4 L307.51 123.4 L307.9 123.4 L308.29 123.4 L308.69 123.4 L309.08 123.4 L309.47 123.4 L309.86 123.4 L310.25 123.4 L310.64 123.4 L311.03 123.4 L311.42 123.4 L311.81 123.4 L312.2 123.4 L312.59 123.4 L312.98 123.4 L313.37 123.4 L313.76 123.4 L314.16 123.4 L314.55 123.4 L314.94 123.4 L315.33 123.4 L315.72 123.4 L316.11 123.4 L316.5 123.4 L316.89 123.4 L317.28 123.4 L317.67 123.4 L318.06 123.4 L318.45 123.4 L318.84 123.4 L319.24 123.4 L319.63 123.4 L320.02 123.4 L320.41 123.4 L320.8 123.4 L321.19 123.4" stroke="#ff2020"/>
<path d="M173.49 119.22 L173.88 119.28 L174.27 119.33 L174.66 119.37 L175.05 119.4 L175.44 119.42 L175.83 119.41 L176.22 119.39 L176.61 119.35 L177 119.28 L177.39 119.18 L177.78 119.05 L178.17 118.89 L178.57 118.7 L178.96 118.47 L179.35 118.21 L179.74 117.93 L180.13 117.63 L180.52 117.32 L180.91 117.01 L181.3 116.71 L181.69 116.43 L182.08 116.18 L182.47 115.98 L182.86 115.84 L183.25 115.75 L183.65 115.74 L184.04 115.79 L184.43 115.92 L184.82 116.1 L185.21 116.34 L185.6 116.63 L185.99 116.96 L186.38 117.31 L186.77 117.67 L187.16 118.04 L187.55 118.4 L187.94 118.74 L188.33 119.06 L188.72 119.36 L189.12 119.63 L189.51 119.87 L189.9 120.09 L190.29 120.28 L190.68 120.44 L191.07 120.59 L191.46 120.71 L191.85 120.83 L192.24 120.93 L192.63 121.02 L193.02 121.11 L193.41 121.19 L193.8 121.27 L194.2 121.34 L194.59 121.41 L194.98 121.48 L195.37 121.55 L195.76 121.62 L196.15 121.69 L196.54 121.75 L196.93 121.81 L197.32 121.88 L197.71 121.94 L198.1 122 L198.49 122.05 L198.88 122.11 L199.28 122.16 L199.67 122.22 L200.06 122.26 L200.45 122.31 L200.84 122.36 L201.23 122.4 L201.62 122.44 L202.01 122.47 L202.4 122.51 L202.79 122.54 L203.18 122.57 L203.57 122.59 L203.96 122.62 L204.35 122.64 L204.75 122.65 L205.14 122.66 L205.53 122.67 L205.92 122.68 L206.31 122.68 L206.7 122.68 L207.09 122.68 L207.48 122.67 L207.87 122.65 L208.26 122.64 L208.65 122.62 L209.04 122.59 L209.43 122.56 L209.83 122.52 L210.22 122.48 L210.61 122.43 L211 122.37 L211.39 122.31 L211.78 122.24 L212.17 122.17 L212.56 122.08 L212.95 121.99 L213.34 121.89 L213.73 121.78 L214.12 121.66 L214.51 121.53 L214.91 121.39 L215.3 121.24 L215.69 121.07 L216.08 120.9 L216.47 120.7 L216.86 120.5 L217.25 120.28 L217.64 120.04 L218.03 119.79 L218.42 119.52 L218.81 119.23 L219.2 118.93 L219.59 118.6 L219.98 118.26 L220.38 117.89 L220.77 117.5 L221.16 117.09 L221.55 116.66 L221.94 116.21 L222.33 115.73 L222.72 115.22 L223.11 114.69 L223.5 114.14 L223.89 113.56 L224.28 112.95 L224.67 112.32 L225.06 111.66 L225.46 110.97 L225.85 110.26 L226.24 109.52 L226.63 108.75 L227.02 107.95 L227.41 107.13 L227.8 106.28 L228.19 105.41 L228.58 104.51 L228.97 103.59 L229.36 102.64 L229.75 101.67 L230.14 100.68 L230.54 99.67 L230.93 98.64 L231.32 97.59 L231.71 96.53 L232.1 95.45 L232.49 94.36 L232.88 93.25 L233.27 92.14 L233.66 91.02 L234.05 89.9 L234.44 88.77 L234.83 87.65 L235.22 86.53 L235.61 85.41 L236.01 84.3 L236.4 83.2 L236.79 82.11 L237.18 81.04 L237.57 79.98 L237.96 78.95 L238.35 77.94 L238.74 76.96 L239.13 76 L239.52 75.08 L239.91 74.19 L240.3 73.34 L240.69 72.53 L241.09 71.76 L241.48 71.03 L241.87 70.35 L242.26 69.72 L242.65 69.13 L243.04 68.6 L243.43 68.13 L243.82 67.7 L244.21 67.34 L244.6 67.03 L244.99 66.78 L245.38 66.59 L245.77 66.46 L246.17 66.39 L246.56 66.39 L246.95 66.61 L247.34 67.1 L247.73 67.83 L248.12 68.81 L248.51 70.03 L248.9 71.46 L249.29 73.08 L249.68 74.88 L250.07 76.83 L250.46 78.91 L250.85 81.1 L251.24 83.36 L251.64 85.68 L252.03 88.03 L252.42 90.38 L252.81 92.73 L253.2 95.03 L253.59 97.29 L253.98 99.48 L254.37 101.58 L254.76 103.6 L255.15 105.51 L255.54 107.31 L255.93 108.99 L256.32 110.56 L256.72 112.02 L257.11 113.35 L257.5 114.57 L257.89 115.68 L258.28 116.67 L258.67 117.57 L259.06 118.37 L259.45 119.08 L259.84 119.71 L260.23 120.26 L260.62 120.74 L261.01 121.16 L261.4 121.52 L261.8 121.83 L262.19 122.09 L262.58 122.32 L262.97 122.51 L263.36 122.67 L263.75 122.8 L264.14 122.91 L264.53 123.01 L264.92 123.08 L265.31 123.14 L265.7 123.19 L266.09 123.24 L266.48 123.27 L266.87 123.3 L267.27 123.32 L267.66 123.34 L268.05 123.35 L268.44 123.36 L268.83 123.37 L269.22 123.37 L269.61 123.38 L270 123.38 L270.39 123.39 L270.78 123.39 L271.17 123.39 L271.56 123.39 L271.95 123.39 L272.35 123.39 L272.74 123.39 L273.13 123.4 L273.52 123.4 L273.91 123.4 L274.3 123.4 L274.69 123.4 L275.08 123.4 L275.47 123.4 L275.86 123.4 L276.25 123.4 L276.64 123.4 L277.03 123.4 L277.43 123.4 L277.82 123.4 L278.21 123.4 L278.6 123.4 L278.99 123.4 L279.38 123.4 L279.77 123.4 L280.16 123.4 L280.55 123.4 L280.94 123.4 L281.33 123.4 L281.72 123.4 L282.11 123.4 L282.5 123.4 L282.9 123.4 L283.29 123.4 L283.68 123.4 L284.07 123.4 L284.46 123.4 L284.85 123.4 L285.24 123.4 L285.63 123.4 L286.02 123.4 L286.41 123.4 L286.8 123.4 L287.19 123.4 L287.58 123.4 L287.98 123.4 L288.37 123.4 L288.76 123.4 L289.15 123.4 L289.54 123.4 L289.93 123.4 L290.32 123.4 L290.71 123.4 L291.1 123.4 L291.49 123.4 L291.88 123.4 L292.27 123.4 L292.66 123.4 L293.06 123.4 L293.45 123.4 L293.84 123.4 L294.23 123.4 L294.62 123.4 L295.01 123.4 L295.4 123.4 L295.79 123.4 L296.18 123.4 L296.57 123.4 L296.96 123.4 L297.35 123.4 L297.74 123.4 L298.13 123.4 L298.53 123.4 L298.92 123.4 L299.31 123.4 L299.7 123.4 L300.09 123.4 L300.48 123.4 L300.87 123.4 L301.26 123.4 L301.65 123.4 L302.04 123.4 L302.43 123.4 L302.82 123.4 L303.21 123.4 L303.61 123.4 L304 123.4 L304.39 123.4 L304.78 123.4 L305.17 123.4 L305.56 123.4 L305.95 123.4 L306.34 123.4 L306.73 123.4 L307.12 123.4 L307.51 123.4 L307.9 123.4 L308.29 123.4 L308.69 123.4 L309.08 123.4 L309.47 123.4 L309.86 123.4 L310.25 123.4 L310.64 123.4 L311.03 123.4 L311.42 123.4 L311.81 123.4 L312.2 123.4 L312.59 123.4 L312.98 123.4 L313.37 123.4 L313.76 123.4 L314.16 123.4 L314.55 123.4 L314.94 123.4 L315.33 123.4 L315.72 123.4 L316.11 123.4 L316.5 123.4 L316.89 123.4 L317.28 123.4 L317.67 123.4 L318.06 123.4 L318.45 123.4 L318.84 123.4 L319.24 123.4 L319.63 123.4 L320.02 123.4 L320.41 123.4 L320.8 123.4 L321.19 123.4" stroke="#1a3cff"/>
<path d="M173.49 121.09 L173.88 121.12 L174.27 121.15 L174.66 121.17 L175.05 121.19 L175.44 121.19 L175.83 121.19 L176.22 121.18 L176.61 121.16 L177 121.12 L177.39 121.06 L177.78 120.99 L178.17 120.9 L178.57 120.8 L178.96 120.67 L179.35 120.53 L179.74 120.37 L180.13 120.21 L180.52 120.03 L180.91 119.86 L181.3 119.69 L181.69 119.54 L182.08 119.4 L182.47 119.29 L182.86 119.21 L183.25 119.17 L183.65 119.16 L184.04 119.19 L184.43 119.26 L184.82 119.36 L185.21 119.49 L185.6 119.65 L185.99 119.83 L186.38 120.03 L186.77 120.23 L187.16 120.43 L187.55 120.63 L187.94 120.82 L188.33 121 L188.72 121.16 L189.12 121.31 L189.51 121.45 L189.9 121.56 L190.29 121.67 L190.68 121.76 L191.07 121.84 L191.46 121.91 L191.85 121.98 L192.24 122.03 L192.63 122.08 L193.02 122.13 L193.41 122.18 L193.8 122.22 L194.2 122.26 L194.59 122.3 L194.98 122.34 L195.37 122.38 L195.76 122.41 L196.15 122.45 L196.54 122.49 L196.93 122.52 L197.32 122.56 L197.71 122.59 L198.1 122.62 L198.49 122.65 L198.88 122.68 L199.28 122.71 L199.67 122.74 L200.06 122.77 L200.45 122.8 L200.84 122.82 L201.23 122.84 L201.62 122.87 L202.01 122.89 L202.4 122.9 L202.79 122.92 L203.18 122.94 L203.57 122.95 L203.96 122.96 L204.35 122.97 L204.75 122.98 L205.14 122.99 L205.53 122.99 L205.92 122.99 L206.31 123 L206.7 122.99 L207.09 122.99 L207.48 122.98 L207.87 122.98 L208.26 122.97 L208.65 122.95 L209.04 122.94 L209.43 122.92 L209.83 122.89 L210.22 122.87 L210.61 122.84 L211 122.81 L211.39 122.77 L211.78 122.73 L212.17 122.69 L212.56 122.64 L212.95 122.58 L213.34 122.52 L213.73 122.46 L214.12 122.39 L214.51 122.31 L214.91 122.23 L215.3 122.14 L215.69 122.04 L216.08 121.94 L216.47 121.82 L216.86 121.7 L217.25 121.57 L217.64 121.43 L218.03 121.29 L218.42 121.13 L218.81 120.96 L219.2 120.78 L219.59 120.59 L219.98 120.39 L220.38 120.17 L220.77 119.94 L221.16 119.7 L221.55 119.45 L221.94 119.18 L222.33 118.9 L222.72 118.61 L223.11 118.3 L223.5 117.97 L223.89 117.63 L224.28 117.27 L224.67 116.9 L225.06 116.51 L225.46 116.11 L225.85 115.69 L226.24 115.26 L226.63 114.8 L227.02 114.34 L227.41 113.86 L227.8 113.36 L228.19 112.85 L228.58 112.32 L228.97 111.78 L229.36 111.22 L229.75 110.65 L230.14 110.07 L230.54 109.48 L230.93 108.87 L231.32 108.26 L231.71 107.63 L232.1 107 L232.49 106.36 L232.88 105.71 L233.27 105.06 L233.66 104.4 L234.05 103.74 L234.44 103.08 L234.83 102.42 L235.22 101.76 L235.61 101.11 L236.01 100.45 L236.4 99.81 L236.79 99.17 L237.18 98.54 L237.57 97.92 L237.96 97.32 L238.35 96.72 L238.74 96.15 L239.13 95.59 L239.52 95.04 L239.91 94.52 L240.3 94.02 L240.69 93.55 L241.09 93.09 L241.48 92.67 L241.87 92.27 L242.26 91.9 L242.65 91.55 L243.04 91.24 L243.43 90.96 L243.82 90.72 L244.21 90.5 L244.6 90.32 L244.99 90.17 L245.38 90.06 L245.77 89.99 L246.17 89.95 L246.56 89.95 L246.95 90.08 L247.34 90.36 L247.73 90.79 L248.12 91.37 L248.51 92.08 L248.9 92.92 L249.29 93.87 L249.68 94.93 L250.07 96.07 L250.46 97.29 L250.85 98.57 L251.24 99.9 L251.64 101.26 L252.03 102.64 L252.42 104.02 L252.81 105.4 L253.2 106.75 L253.59 108.08 L253.98 109.36 L254.37 110.6 L254.76 111.78 L255.15 112.9 L255.54 113.96 L255.93 114.95 L256.32 115.87 L256.72 116.72 L257.11 117.5 L257.5 118.22 L257.89 118.87 L258.28 119.45 L258.67 119.98 L259.06 120.45 L259.45 120.87 L259.84 121.23 L260.23 121.56 L260.62 121.84 L261.01 122.08 L261.4 122.3 L261.8 122.48 L262.19 122.63 L262.58 122.77 L262.97 122.88 L263.36 122.97 L263.75 123.05 L264.14 123.11 L264.53 123.17 L264.92 123.21 L265.31 123.25 L265.7 123.28 L266.09 123.3 L266.48 123.32 L266.87 123.34 L267.27 123.35 L267.66 123.36 L268.05 123.37 L268.44 123.38 L268.83 123.38 L269.22 123.39 L269.61 123.39 L270 123.39 L270.39 123.39 L270.78 123.39 L271.17 123.39 L271.56 123.4 L271.95 123.4 L272.35 123.4 L272.74 123.4 L273.13 123.4 L273.52 123.4 L273.91 123.4 L274.3 123.4 L274.69 123.4 L275.08 123.4 L275.47 123.4 L275.86 123.4 L276.25 123.4 L276.64 123.4 L277.03 123.4 L277.43 123.4 L277.82 123.4 L278.21 123.4 L278.6 123.4 L278.99 123.4 L279.38 123.4 L279.77 123.4 L280.16 123.4 L280.55 123.4 L280.94 123.4 L281.33 123.4 L281.72 123.4 L282.11 123.4 L282.5 123.4 L282.9 123.4 L283.29 123.4 L283.68 123.4 L284.07 123.4 L284.46 123.4 L284.85 123.4 L285.24 123.4 L285.63 123.4 L286.02 123.4 L286.41 123.4 L286.8 123.4 L287.19 123.4 L287.58 123.4 L287.98 123.4 L288.37 123.4 L288.76 123.4 L289.15 123.4 L289.54 123.4 L289.93 123.4 L290.32 123.4 L290.71 123.4 L291.1 123.4 L291.49 123.4 L291.88 123.4 L292.27 123.4 L292.66 123.4 L293.06 123.4 L293.45 123.4 L293.84 123.4 L294.23 123.4 L294.62 123.4 L295.01 123.4 L295.4 123.4 L295.79 123.4 L296.18 123.4 L296.57 123.4 L296.96 123.4 L297.35 123.4 L297.74 123.4 L298.13 123.4 L298.53 123.4 L298.92 123.4 L299.31 123.4 L299.7 123.4 L300.09 123.4 L300.48 123.4 L300.87 123.4 L301.26 123.4 L301.65 123.4 L302.04 123.4 L302.43 123.4 L302.82 123.4 L303.21 123.4 L303.61 123.4 L304 123.4 L304.39 123.4 L304.78 123.4 L305.17 123.4 L305.56 123.4 L305.95 123.4 L306.34 123.4 L306.73 123.4 L307.12 123.4 L307.51 123.4 L307.9 123.4 L308.29 123.4 L308.69 123.4 L309.08 123.4 L309.47 123.4 L309.86 123.4 L310.25 123.4 L310.64 123.4 L311.03 123.4 L311.42 123.4 L311.81 123.4 L312.2 123.4 L312.59 123.4 L312.98 123.4 L313.37 123.4 L313.76 123.4 L314.16 123.4 L314.55 123.4 L314.94 123.4 L315.33 123.4 L315.72 123.4 L316.11 123.4 L316.5 123.4 L316.89 123.4 L317.28 123.4 L317.67 123.4 L318.06 123.4 L318.45 123.4 L318.84 123.4 L319.24 123.4 L319.63 123.4 L320.02 123.4 L320.41 123.4 L320.8 123.4 L321.19 123.4" stroke="#1fb54a"/>
<path d="M173.49 123.27 L173.88 123.27 L174.27 123.27 L174.66 123.28 L175.05 123.28 L175.44 123.28 L175.83 123.28 L176.22 123.28 L176.61 123.28 L177 123.27 L177.39 123.27 L177.78 123.27 L178.17 123.26 L178.57 123.26 L178.96 123.25 L179.35 123.24 L179.74 123.23 L180.13 123.22 L180.52 123.21 L180.91 123.2 L181.3 123.19 L181.69 123.19 L182.08 123.18 L182.47 123.17 L182.86 123.17 L183.25 123.16 L183.65 123.16 L184.04 123.17 L184.43 123.17 L184.82 123.18 L185.21 123.18 L185.6 123.19 L185.99 123.2 L186.38 123.21 L186.77 123.22 L187.16 123.24 L187.55 123.25 L187.94 123.26 L188.33 123.27 L188.72 123.28 L189.12 123.28 L189.51 123.29 L189.9 123.3 L190.29 123.3 L190.68 123.31 L191.07 123.31 L191.46 123.32 L191.85 123.32 L192.24 123.32 L192.63 123.33 L193.02 123.33 L193.41 123.33 L193.8 123.33 L194.2 123.34 L194.59 123.34 L194.98 123.34 L195.37 123.34 L195.76 123.35 L196.15 123.35 L196.54 123.35 L196.93 123.35 L197.32 123.35 L197.71 123.35 L198.1 123.36 L198.49 123.36 L198.88 123.36 L199.28 123.36 L199.67 123.36 L200.06 123.36 L200.45 123.37 L200.84 123.37 L201.23 123.37 L201.62 123.37 L202.01 123.37 L202.4 123.37 L202.79 123.37 L203.18 123.37 L203.57 123.37 L203.96 123.37 L204.35 123.37 L204.75 123.37 L205.14 123.37 L205.53 123.37 L205.92 123.37 L206.31 123.37 L206.7 123.37 L207.09 123.37 L207.48 123.37 L207.87 123.37 L208.26 123.37 L208.65 123.37 L209.04 123.37 L209.43 123.36 L209.83 123.36 L210.22 123.36 L210.61 123.36 L211 123.35 L211.39 123.35 L211.78 123.35 L212.17 123.34 L212.56 123.34 L212.95 123.33 L213.34 123.33 L213.73 123.32 L214.12 123.32 L214.51 123.31 L214.91 123.3 L215.3 123.29 L215.69 123.29 L216.08 123.28 L216.47 123.27 L216.86 123.26 L217.25 123.25 L217.64 123.23 L218.03 123.22 L218.42 123.21 L218.81 123.19 L219.2 123.18 L219.59 123.16 L219.98 123.14 L220.38 123.12 L220.77 123.1 L221.16 123.08 L221.55 123.06 L221.94 123.04 L222.33 123.01 L222.72 122.99 L223.11 122.96 L223.5 122.93 L223.89 122.9 L224.28 122.87 L224.67 122.84 L225.06 122.81 L225.46 122.77 L225.85 122.74 L226.24 122.7 L226.63 122.66 L227.02 122.62 L227.41 122.58 L227.8 122.54 L228.19 122.49 L228.58 122.45 L228.97 122.4 L229.36 122.35 L229.75 122.3 L230.14 122.25 L230.54 122.2 L230.93 122.15 L231.32 122.1 L231.71 122.04 L232.1 121.99 L232.49 121.93 L232.88 121.88 L233.27 121.82 L233.66 121.76 L234.05 121.71 L234.44 121.65 L234.83 121.59 L235.22 121.54 L235.61 121.48 L236.01 121.42 L236.4 121.37 L236.79 121.31 L237.18 121.26 L237.57 121.2 L237.96 121.15 L238.35 121.1 L238.74 121.05 L239.13 121 L239.52 120.96 L239.91 120.91 L240.3 120.87 L240.69 120.83 L241.09 120.79 L241.48 120.75 L241.87 120.72 L242.26 120.68 L242.65 120.66 L243.04 120.63 L243.43 120.6 L243.82 120.58 L244.21 120.56 L244.6 120.55 L244.99 120.54 L245.38 120.53 L245.77 120.52 L246.17 120.52 L246.56 120.52 L246.95 120.53 L247.34 120.55 L247.73 120.59 L248.12 120.64 L248.51 120.7 L248.9 120.77 L249.29 120.85 L249.68 120.95 L250.07 121.04 L250.46 121.15 L250.85 121.26 L251.24 121.37 L251.64 121.49 L252.03 121.61 L252.42 121.73 L252.81 121.85 L253.2 121.97 L253.59 122.08 L253.98 122.19 L254.37 122.3 L254.76 122.4 L255.15 122.5 L255.54 122.59 L255.93 122.67 L256.32 122.75 L256.72 122.82 L257.11 122.89 L257.5 122.95 L257.89 123.01 L258.28 123.06 L258.67 123.11 L259.06 123.15 L259.45 123.18 L259.84 123.21 L260.23 123.24 L260.62 123.27 L261.01 123.29 L261.4 123.3 L261.8 123.32 L262.19 123.33 L262.58 123.35 L262.97 123.36 L263.36 123.36 L263.75 123.37 L264.14 123.38 L264.53 123.38 L264.92 123.38 L265.31 123.39 L265.7 123.39 L266.09 123.39 L266.48 123.39 L266.87 123.39 L267.27 123.4 L267.66 123.4 L268.05 123.4 L268.44 123.4 L268.83 123.4 L269.22 123.4 L269.61 123.4 L270 123.4 L270.39 123.4 L270.78 123.4 L271.17 123.4 L271.56 123.4 L271.95 123.4 L272.35 123.4 L272.74 123.4 L273.13 123.4 L273.52 123.4 L273.91 123.4 L274.3 123.4 L274.69 123.4 L275.08 123.4 L275.47 123.4 L275.86 123.4 L276.25 123.4 L276.64 123.4 L277.03 123.4 L277.43 123.4 L277.82 123.4 L278.21 123.4 L278.6 123.4 L278.99 123.4 L279.38 123.4 L279.77 123.4 L280.16 123.4 L280.55 123.4 L280.94 123.4 L281.33 123.4 L281.72 123.4 L282.11 123.4 L282.5 123.4 L282.9 123.4 L283.29 123.4 L283.68 123.4 L284.07 123.4 L284.46 123.4 L284.85 123.4 L285.24 123.4 L285.63 123.4 L286.02 123.4 L286.41 123.4 L286.8 123.4 L287.19 123.4 L287.58 123.4 L287.98 123.4 L288.37 123.4 L288.76 123.4 L289.15 123.4 L289.54 123.4 L289.93 123.4 L290.32 123.4 L290.71 123.4 L291.1 123.4 L291.49 123.4 L291.88 123.4 L292.27 123.4 L292.66 123.4 L293.06 123.4 L293.45 123.4 L293.84 123.4 L294.23 123.4 L294.62 123.4 L295.01 123.4 L295.4 123.4 L295.79 123.4 L296.18 123.4 L296.57 123.4 L296.96 123.4 L297.35 123.4 L297.74 123.4 L298.13 123.4 L298.53 123.4 L298.92 123.4 L299.31 123.4 L299.7 123.4 L300.09 123.4 L300.48 123.4 L300.87 123.4 L301.26 123.4 L301.65 123.4 L302.04 123.4 L302.43 123.4 L302.82 123.4 L303.21 123.4 L303.61 123.4 L304 123.4 L304.39 123.4 L304.78 123.4 L305.17 123.4 L305.56 123.4 L305.95 123.4 L306.34 123.4 L306.73 123.4 L307.12 123.4 L307.51 123.4 L307.9 123.4 L308.29 123.4 L308.69 123.4 L309.08 123.4 L309.47 123.4 L309.86 123.4 L310.25 123.4 L310.64 123.4 L311.03 123.4 L311.42 123.4 L311.81 123.4 L312.2 123.4 L312.59 123.4 L312.98 123.4 L313.37 123.4 L313.76 123.4 L314.16 123.4 L314.55 123.4 L314.94 123.4 L315.33 123.4 L315.72 123.4 L316.11 123.4 L316.5 123.4 L316.89 123.4 L317.28 123.4 L317.67 123.4 L318.06 123.4 L318.45 123.4 L318.84 123.4 L319.24 123.4 L319.63 123.4 L320.02 123.4 L320.41 123.4 L320.8 123.4 L321.19 123.4" stroke="#8a2be2"/>
</g>
<line x1="173.5" y1="96.4" x2="175.5" y2="96.4" stroke="#4a4a4a" stroke-width="0.9"/>
<line x1="173.5" y1="69.4" x2="175.5" y2="69.4" stroke="#4a4a4a" stroke-width="0.9"/>
<line x1="173.5" y1="42.4" x2="175.5" y2="42.4" stroke="#4a4a4a" stroke-width="0.9"/>
<line x1="212.3" y1="123.4" x2="212.3" y2="121.4" stroke="#4a4a4a" stroke-width="0.9"/>
<line x1="264.4" y1="123.4" x2="264.4" y2="121.4" stroke="#4a4a4a" stroke-width="0.9"/>
<line x1="316.5" y1="123.4" x2="316.5" y2="121.4" stroke="#4a4a4a" stroke-width="0.9"/>
<line x1="186.2" y1="123.4" x2="186.2" y2="122.2" stroke="#4a4a4a" stroke-width="0.8"/>
<line x1="238.4" y1="123.4" x2="238.4" y2="122.2" stroke="#4a4a4a" stroke-width="0.8"/>
<line x1="290.5" y1="123.4" x2="290.5" y2="122.2" stroke="#4a4a4a" stroke-width="0.8"/>
<text x="171.2" y="126" font-size="8.7" text-anchor="end" font-weight="bold" fill="#000" >0.0</text>
<text x="171.2" y="99" font-size="8.7" text-anchor="end" font-weight="bold" fill="#000" >0.5</text>
<text x="171.2" y="72" font-size="8.7" text-anchor="end" font-weight="bold" fill="#000" >1.0</text>
<text x="171.2" y="45" font-size="8.7" text-anchor="end" font-weight="bold" fill="#000" >1.5</text>
<text x="171.2" y="18" font-size="8.7" text-anchor="end" font-weight="bold" fill="#000" >2.0</text>
<text x="212.3" y="132.1" font-size="8.8" text-anchor="middle" font-weight="bold" fill="#000" >400</text>
<text x="264.4" y="132.1" font-size="8.8" text-anchor="middle" font-weight="bold" fill="#000" >600</text>
<text x="316.5" y="132.1" font-size="8.8" text-anchor="middle" font-weight="bold" fill="#000" >800</text>
<text x="247.3" y="146" font-size="8.7" text-anchor="middle" font-weight="bold" fill="#000" >wavelength (nm)</text>
<text transform="translate(153.1,66.8) rotate(-90)" font-size="8.6" text-anchor="middle" font-weight="bold">Absorption (a.u.)</text>
<line x1="249.2" y1="28.3" x2="268.83" y2="25.99" stroke="#000" stroke-width="1.0"/>
<path d="M273.80 25.40 L269.02 27.57 L268.65 24.40 Z" fill="#000"/>
<text x="274.6" y="28.9" font-size="8.8" text-anchor="start" font-weight="bold" fill="#000" >0 min</text>
<line x1="247.5" y1="46.2" x2="268.50" y2="45.31" stroke="#ff2020" stroke-width="1.0"/>
<path d="M273.50 45.10 L268.57 46.91 L268.44 43.71 Z" fill="#ff2020"/>
<text x="274.4" y="47.7" font-size="8.8" text-anchor="start" font-weight="bold" fill="#000" >15 min</text>
<line x1="247.0" y1="66.4" x2="269.30" y2="65.42" stroke="#1a2cff" stroke-width="1.0"/>
<path d="M274.30 65.20 L269.38 67.02 L269.23 63.82 Z" fill="#1a2cff"/>
<text x="275.2" y="68.5" font-size="8.8" text-anchor="start" font-weight="bold" fill="#000" >30 min</text>
<line x1="247.0" y1="90.0" x2="274.33" y2="86.87" stroke="#1fb54a" stroke-width="1.0"/>
<path d="M279.30 86.30 L274.51 88.46 L274.15 85.28 Z" fill="#1fb54a"/>
<text x="279.8" y="89.7" font-size="8.8" text-anchor="start" font-weight="bold" fill="#000" >60 min</text>
<line x1="236.0" y1="121.6" x2="271.56" y2="116.07" stroke="#8a2be2" stroke-width="1.0"/>
<path d="M276.50 115.30 L271.81 117.65 L271.31 114.49 Z" fill="#8a2be2"/>
<text x="277" y="118.1" font-size="8.8" text-anchor="start" font-weight="bold" fill="#000" >90 min</text>
<path d="M513 53.75 L513.33 53.89 L513.66 53.95 L513.99 54.13 L514.32 53.89 L514.65 54.11 L514.98 53.03 L515.31 53.56 L515.64 54.13 L515.97 53.78 L516.3 54.08 L516.63 53.14 L516.96 53.56 L517.29 53.3 L517.62 53.65 L517.95 53.69 L518.28 53.02 L518.61 53.26 L518.94 53.34 L519.27 54.1 L519.6 53.92 L519.93 53.19 L520.26 53.96 L520.59 53.17 L520.92 53.74 L521.25 53.15 L521.58 53 L521.91 54.05 L522.24 53.25 L522.57 53.26 L522.9 54.18 L523.23 54.05 L523.56 53.35 L523.89 54.15 L524.22 53.65 L524.55 53.81 L524.88 53.25 L525.21 54.13 L525.54 53.83 L525.87 54.16 L526.2 54.07 L526.53 53.36 L526.86 53.43 L527.19 53.2 L527.52 53.17 L527.85 53.08 L528.18 53.36 L528.51 53.72 L528.84 53 L529.17 53.81 L529.5 53.41 L529.83 53.37 L530.16 53.98 L530.49 53.58 L530.82 53.38 L531.15 53.58 L531.48 53.85 L531.81 53.07 L532.14 54.17 L532.47 53.03 L532.8 53.9 L533.13 54.01 L533.46 53.02 L533.79 53.95 L534.12 53.44 L534.45 53.69 L534.78 53.01 L535.11 53.06 L535.44 53.22 L535.77 54.15 L536.1 53.24 L536.43 53.91 L536.76 54.12 L537.09 54.13 L537.42 53.41 L537.75 53.43 L538.08 53.63 L538.41 53.93 L538.74 53.13 L539.07 53.9 L539.4 53.96 L539.73 54.03 L540.06 53.04 L540.39 54.13 L540.72 53.11 L541.05 53.41 L541.38 53.73 L541.71 54.1 L542.04 53.41 L542.37 54.11 L542.7 53.65 L543.03 53.37 L543.36 53.38 L543.69 53.2 L544.02 52.91 L544.35 51.65 L544.68 46.22 L545.01 32.09 L545.34 15.64 L545.67 15.81 L546 32.61 L546.33 46.34 L546.66 52.04 L546.99 53.12 L547.32 53.7 L547.65 53.97 L547.98 53.32 L548.31 51.9 L548.64 46.82 L548.97 41.02 L549.3 38.26 L549.63 44.58 L549.96 50.98 L550.29 52.29 L550.62 52.8 L550.95 52.1 L551.28 51.16 L551.61 51.8 L551.94 51.98 L552.27 53.13 L552.6 53.09 L552.93 54 L553.26 53.35 L553.59 53.54 L553.92 54.2 L554.25 54.02 L554.58 54.17 L554.91 53.54 L555.24 53.59 L555.57 53.88 L555.9 53.57 L556.23 53.35 L556.56 53.48 L556.89 53.17 L557.22 53.44 L557.55 54.16 L557.88 54.08 L558.21 53.58 L558.54 53.25 L558.87 52.82 L559.2 52.28 L559.53 52.35 L559.86 52.96 L560.19 53.21 L560.52 52.84 L560.85 53.59 L561.18 53.75 L561.51 53.76 L561.84 53.77 L562.17 53.9 L562.5 53.43 L562.83 53.83 L563.16 53.29 L563.49 53.48 L563.82 53.72 L564.15 53.49 L564.48 52.87 L564.81 53.55 L565.14 53.19 L565.47 53.19 L565.8 52.65 L566.13 53.43 L566.46 53.17 L566.79 53.72 L567.12 53.46 L567.45 53.83 L567.78 53.51 L568.11 53.52 L568.44 52.79 L568.77 52.95 L569.1 52.93 L569.43 52.99 L569.76 52.48 L570.09 53.22 L570.42 53.45 L570.75 53.41 L571.08 53.85 L571.41 53.77 L571.74 52.89 L572.07 52.1 L572.4 50.37 L572.73 49.65 L573.06 48.61 L573.39 47.81 L573.72 48.87 L574.05 50.35 L574.38 51.82 L574.71 52.22 L575.04 53.54 L575.37 53.56 L575.7 53.75 L576.03 53.47 L576.36 53.7 L576.69 53.83 L577.02 53.6 L577.35 53.61 L577.68 52.68 L578.01 52.75 L578.34 53.04 L578.67 53.29 L579 52.82 L579.33 53.47 L579.66 53.5 L579.99 52.89 L580.32 53.47 L580.65 53.22 L580.98 53.04 L581.31 53.15 L581.64 53.37 L581.97 53.21 L582.3 53.21 L582.63 53.01 L582.96 53.51 L583.29 53.38 L583.62 53.62 L583.95 53.55 L584.28 53.08 L584.61 53.82 L584.94 52.69 L585.27 53.13 L585.6 52.95 L585.93 53.09 L586.26 52.74 L586.59 53.63 L586.92 53.12 L587.25 52.76 L587.58 53.51 L587.91 52.94 L588.24 53.52 L588.57 53.32 L588.9 53.64 L589.23 54.11 L589.56 53.96 L589.89 53.49 L590.22 53.97 L590.55 53.77 L590.88 53.44 L591.21 53.17 L591.54 53.71 L591.87 53.68 L592.2 54.15 L592.53 54.16 L592.86 53.71 L593.19 53.34 L593.52 53.77 L593.85 52.11 L594.18 51.02 L594.51 49.66 L594.84 47.61 L595.17 45.7 L595.5 46.46 L595.83 48.36 L596.16 49.88 L596.49 51.73 L596.82 52.55 L597.15 53.12 L597.48 54.11 L597.81 53.44 L598.14 54.15 L598.47 54.1 L598.8 53.71 L599.13 53.31 L599.46 54.18 L599.79 53.6 L600.12 53.5 L600.45 53.38 L600.78 54.18 L601.11 53.59 L601.44 53.34 L601.77 53.57 L602.1 53.15 L602.43 53.75 L602.76 53.53 L603.09 53.35 L603.42 53.94 L603.75 53.99 L604.08 53.01 L604.41 53.63 L604.74 53.31 L605.07 54.07 L605.4 53.8 L605.73 52.97 L606.06 52.67 L606.39 52.05 L606.72 52.44 L607.05 51 L607.38 50.93 L607.71 50.59 L608.04 50.87 L608.37 51.01 L608.7 51.32 L609.03 50.61 L609.36 51.36 L609.69 50.87 L610.02 51.41 L610.35 51.61 L610.68 52.08 L611.01 52.84 L611.34 53.12 L611.67 53.22 L612 53.81 L612.33 53.68 L612.66 53.03 L612.99 53.3 L613.32 53.55 L613.65 54.1 L613.98 54.07 L614.31 53.65 L614.64 53.02 L614.97 53.93 L615.3 53.51 L615.63 53.69 L615.96 53.84 L616.29 53.75 L616.62 53.56 L616.95 54.06 L617.28 53.41 L617.61 53.39 L617.94 53.91 L618.27 53.07 L618.6 53.13 L618.93 53.71 L619.26 52.72 L619.59 53.59 L619.92 53.37 L620.25 53.03 L620.58 52.84 L620.91 53.46 L621.24 53.65 L621.57 52.78 L621.9 53.25 L622.23 53.4 L622.56 53.4 L622.89 53.26 L623.22 53.09 L623.55 53.64 L623.88 53.93 L624.21 53.05 L624.54 53.24 L624.87 53.9 L625.2 53.73 L625.53 53.3 L625.86 52.05 L626.19 52.25 L626.52 51.92 L626.85 51.54 L627.18 51.21 L627.51 50.86 L627.84 52.45 L628.17 52.34 L628.5 53.31 L628.83 53.95 L629.16 53.78 L629.49 53.14 L629.82 53.35 L630.15 54.1 L630.48 53.18 L630.81 53.73 L631.14 53.49 L631.47 53.19 L631.8 53.73 L632.13 53.03 L632.46 53.09 L632.79 53.38 L633.12 52.98 L633.45 52.9 L633.78 53.46 L634.11 53.57 L634.44 53.65 L634.77 52.66 L635.1 52.93 L635.43 52.73 L635.76 53.03 L636.09 52.89 L636.42 53.45 L636.75 52.83 L637.08 52.53 L637.41 53.39 L637.74 52.82 L638.07 53.49 L638.4 53.41 L638.73 53.96 L639.06 53.58 L639.39 53.69 L639.72 53.28 L640.05 53.63 L640.38 53.26 L640.71 53.83 L641.04 53.5 L641.37 52.95 L641.7 52.96 L642.03 52.97 L642.36 53.25 L642.69 52.42 L643.02 52.93 L643.35 52.79 L643.68 52.11 L644.01 52.88 L644.34 52.31 L644.67 52.49 L645 53.19 L645.33 52.86 L645.66 53.67 L645.99 53.19 L646.32 52.95 L646.65 53.46 L646.98 52.47 L647.31 53.27 L647.64 52.47 L647.97 52.62 L648.3 53.66 L648.63 53.43 L648.96 52.98 L649.29 52.94 L649.62 54.04 L649.95 53.72 L650.28 53.93 L650.61 53.1 L650.94 53.62 L651.27 53.17 L651.6 52.8 L651.93 52.61 L652.26 52.6 L652.59 51.98 L652.92 51.87 L653.25 51.62 L653.58 52.7 L653.91 52.82 L654.24 53.35 L654.57 53.17 L654.9 53.85 L655.23 53.55 L655.56 53.68 L655.89 53.68 L656.22 53.89 L656.55 53.47 L656.88 53.12 L657.21 53.04 L657.54 53.24 L657.87 53.05 L658.2 54.07 L658.53 53.58 L658.86 53.91 L659.19 53 L659.52 53.56 L659.85 54.07 L660.18 53.74 L660.51 53.51 L660.84 53.56 L661.17 53.12 L661.5 53.19 L661.83 53.19" fill="none" stroke="#383838" stroke-width="1.05"/>
<path d="M513 96.95 L513.33 96.96 L513.66 97.56 L513.99 96.68 L514.32 96.8 L514.65 96.83 L514.98 96.69 L515.31 96.84 L515.64 96.78 L515.97 97.08 L516.3 96.54 L516.63 97.61 L516.96 96.94 L517.29 97.63 L517.62 97.33 L517.95 97.31 L518.28 97.07 L518.61 97.63 L518.94 96.64 L519.27 97.3 L519.6 96.85 L519.93 97.31 L520.26 97.38 L520.59 96.7 L520.92 96.74 L521.25 96.53 L521.58 96.78 L521.91 96.59 L522.24 96.98 L522.57 97.67 L522.9 96.94 L523.23 96.87 L523.56 97.06 L523.89 96.84 L524.22 97.38 L524.55 97.36 L524.88 96.7 L525.21 96.79 L525.54 97.31 L525.87 97.63 L526.2 97.28 L526.53 97.02 L526.86 97.67 L527.19 96.51 L527.52 96.57 L527.85 97.44 L528.18 96.99 L528.51 96.55 L528.84 97.16 L529.17 97.69 L529.5 97.12 L529.83 96.92 L530.16 96.61 L530.49 96.59 L530.82 97.58 L531.15 97.09 L531.48 97.62 L531.81 96.56 L532.14 96.79 L532.47 96.56 L532.8 96.98 L533.13 96.57 L533.46 96.81 L533.79 96.99 L534.12 96.87 L534.45 96.56 L534.78 96.55 L535.11 97.67 L535.44 96.72 L535.77 97.11 L536.1 96.98 L536.43 97.14 L536.76 96.6 L537.09 96.88 L537.42 96.63 L537.75 97.15 L538.08 97.61 L538.41 97.22 L538.74 97.53 L539.07 96.76 L539.4 96.52 L539.73 97.15 L540.06 97.08 L540.39 97.19 L540.72 96.95 L541.05 97.25 L541.38 97.37 L541.71 97.6 L542.04 96.87 L542.37 97.04 L542.7 97.49 L543.03 96.77 L543.36 96.64 L543.69 96.86 L544.02 96.45 L544.35 96.14 L544.68 91.1 L545.01 78.3 L545.34 65.11 L545.67 65.31 L546 78.67 L546.33 90.47 L546.66 95.8 L546.99 97.05 L547.32 96.78 L547.65 96.56 L547.98 97.16 L548.31 95.24 L548.64 91.64 L548.97 86.17 L549.3 84.89 L549.63 89.27 L549.96 94.53 L550.29 96.16 L550.62 96.49 L550.95 95.44 L551.28 95.38 L551.61 95.47 L551.94 96.44 L552.27 96.85 L552.6 96.96 L552.93 97.47 L553.26 97.29 L553.59 97.65 L553.92 97.37 L554.25 97.34 L554.58 96.82 L554.91 97.47 L555.24 96.96 L555.57 96.66 L555.9 96.58 L556.23 96.7 L556.56 96.81 L556.89 97.31 L557.22 96.84 L557.55 96.55 L557.88 97.36 L558.21 97.03 L558.54 96.25 L558.87 96.09 L559.2 96 L559.53 96.15 L559.86 96.75 L560.19 96.98 L560.52 96.76 L560.85 96.49 L561.18 96.87 L561.51 96.87 L561.84 96.87 L562.17 96.51 L562.5 97.2 L562.83 97.48 L563.16 97.34 L563.49 96.53 L563.82 96.97 L564.15 96.42 L564.48 96.95 L564.81 96.55 L565.14 97.13 L565.47 97.03 L565.8 96.34 L566.13 96.69 L566.46 97.49 L566.79 96.99 L567.12 96.95 L567.45 96.91 L567.78 97.2 L568.11 97.28 L568.44 96.63 L568.77 97.01 L569.1 96.45 L569.43 95.82 L569.76 96.73 L570.09 96.37 L570.42 96.08 L570.75 97.34 L571.08 96.29 L571.41 96.89 L571.74 96.5 L572.07 96.34 L572.4 94.72 L572.73 93.31 L573.06 92.46 L573.39 92.17 L573.72 93.24 L574.05 94.14 L574.38 95.77 L574.71 96 L575.04 96.61 L575.37 96.69 L575.7 97.64 L576.03 97.48 L576.36 97.48 L576.69 97.16 L577.02 96.85 L577.35 96.47 L577.68 97.21 L578.01 96.73 L578.34 96.15 L578.67 96.31 L579 96.27 L579.33 97.08 L579.66 97.38 L579.99 96.61 L580.32 97.38 L580.65 96.85 L580.98 97.3 L581.31 97.53 L581.64 97.24 L581.97 97.45 L582.3 96.94 L582.63 96.49 L582.96 97.08 L583.29 97.15 L583.62 96.64 L583.95 96.85 L584.28 96.73 L584.61 96.34 L584.94 96.64 L585.27 96.69 L585.6 96.78 L585.93 97.04 L586.26 96.68 L586.59 97.4 L586.92 97.23 L587.25 97.4 L587.58 97.16 L587.91 97.17 L588.24 97.05 L588.57 97.39 L588.9 96.89 L589.23 97.18 L589.56 97.3 L589.89 97.12 L590.22 96.84 L590.55 96.59 L590.88 96.6 L591.21 96.93 L591.54 97.2 L591.87 97.41 L592.2 97.36 L592.53 96.87 L592.86 97.6 L593.19 96.76 L593.52 97.11 L593.85 95.86 L594.18 95.68 L594.51 94.02 L594.84 92.65 L595.17 91.48 L595.5 91.37 L595.83 92.85 L596.16 94.47 L596.49 95.77 L596.82 96.16 L597.15 96.93 L597.48 97.53 L597.81 96.78 L598.14 97.67 L598.47 97.15 L598.8 96.97 L599.13 96.5 L599.46 96.97 L599.79 96.71 L600.12 97.28 L600.45 97.58 L600.78 97.59 L601.11 97.24 L601.44 96.96 L601.77 96.63 L602.1 97.33 L602.43 97.16 L602.76 97.36 L603.09 96.95 L603.42 97.56 L603.75 96.75 L604.08 96.87 L604.41 96.82 L604.74 97.23 L605.07 97.52 L605.4 96.56 L605.73 96.94 L606.06 96.77 L606.39 95.63 L606.72 94.83 L607.05 94.83 L607.38 94.7 L607.71 94.58 L608.04 94.47 L608.37 94.29 L608.7 94.44 L609.03 94.6 L609.36 95.03 L609.69 94.37 L610.02 94.6 L610.35 95.43 L610.68 96.38 L611.01 95.93 L611.34 96.1 L611.67 96.43 L612 97.09 L612.33 97.19 L612.66 96.71 L612.99 96.73 L613.32 97.21 L613.65 97.28 L613.98 97.33 L614.31 97.37 L614.64 96.57 L614.97 97.08 L615.3 97.5 L615.63 97.65 L615.96 96.88 L616.29 97.51 L616.62 97.26 L616.95 97.59 L617.28 96.73 L617.61 97.27 L617.94 97.42 L618.27 96.94 L618.6 96.44 L618.93 96.5 L619.26 96.4 L619.59 96.28 L619.92 96.31 L620.25 96.84 L620.58 96.23 L620.91 97.02 L621.24 97.03 L621.57 97.17 L621.9 97.21 L622.23 97.15 L622.56 97.45 L622.89 97.54 L623.22 97.17 L623.55 97.61 L623.88 96.59 L624.21 96.6 L624.54 96.54 L624.87 96.67 L625.2 96.75 L625.53 96.59 L625.86 96.41 L626.19 95.89 L626.52 94.51 L626.85 94.53 L627.18 94.71 L627.51 94.91 L627.84 95.2 L628.17 96.36 L628.5 96.52 L628.83 97.14 L629.16 97.03 L629.49 97.64 L629.82 97.63 L630.15 96.59 L630.48 97.41 L630.81 97.36 L631.14 96.85 L631.47 96.63 L631.8 97.06 L632.13 96.9 L632.46 97.35 L632.79 97.54 L633.12 96.86 L633.45 96.71 L633.78 96.9 L634.11 97.06 L634.44 97.1 L634.77 96.76 L635.1 96.35 L635.43 96.35 L635.76 96.93 L636.09 96.52 L636.42 95.98 L636.75 96.48 L637.08 96.32 L637.41 96.91 L637.74 96.28 L638.07 96.59 L638.4 96.45 L638.73 96.96 L639.06 97.61 L639.39 97.1 L639.72 96.93 L640.05 97.59 L640.38 96.57 L640.71 96.87 L641.04 97.37 L641.37 96.34 L641.7 97.16 L642.03 96.56 L642.36 96.01 L642.69 96.16 L643.02 96.31 L643.35 96.16 L643.68 96.33 L644.01 95.82 L644.34 96.12 L644.67 97.13 L645 96.6 L645.33 96.7 L645.66 96.26 L645.99 96.47 L646.32 97.23 L646.65 96.83 L646.98 96.55 L647.31 95.97 L647.64 96.37 L647.97 96.88 L648.3 96.54 L648.63 96.83 L648.96 97.3 L649.29 97.08 L649.62 97.14 L649.95 96.46 L650.28 96.47 L650.61 97.35 L650.94 96.85 L651.27 97.26 L651.6 96.95 L651.93 96.71 L652.26 95.67 L652.59 96.08 L652.92 95.61 L653.25 95.84 L653.58 95.22 L653.91 96.36 L654.24 96.31 L654.57 97.27 L654.9 97.5 L655.23 96.68 L655.56 96.97 L655.89 96.81 L656.22 97.06 L656.55 96.84 L656.88 97.3 L657.21 96.65 L657.54 96.7 L657.87 97.05 L658.2 96.59 L658.53 96.96 L658.86 97.58 L659.19 97.56 L659.52 96.74 L659.85 96.52 L660.18 97.49 L660.51 97.65 L660.84 97.22 L661.17 96.66 L661.5 96.78 L661.83 97.6" fill="none" stroke="#ff1010" stroke-width="1.05"/>
<rect x="512.5" y="11.6" width="149.9" height="90.6" fill="none" stroke="#4a4a4a" stroke-width="1"/>
<line x1="512.6" y1="102.2" x2="512.6" y2="100.2" stroke="#4a4a4a" stroke-width="0.8"/>
<text transform="translate(512.80,110.3) scale(1,0.86)" font-size="8.7" text-anchor="middle" font-weight="bold">10</text>
<line x1="534.0" y1="102.2" x2="534.0" y2="100.2" stroke="#4a4a4a" stroke-width="0.8"/>
<text transform="translate(534.20,110.3) scale(1,0.86)" font-size="8.7" text-anchor="middle" font-weight="bold">20</text>
<line x1="555.4" y1="102.2" x2="555.4" y2="100.2" stroke="#4a4a4a" stroke-width="0.8"/>
<text transform="translate(555.60,110.3) scale(1,0.86)" font-size="8.7" text-anchor="middle" font-weight="bold">30</text>
<line x1="576.8" y1="102.2" x2="576.8" y2="100.2" stroke="#4a4a4a" stroke-width="0.8"/>
<text transform="translate(577.00,110.3) scale(1,0.86)" font-size="8.7" text-anchor="middle" font-weight="bold">40</text>
<line x1="598.2" y1="102.2" x2="598.2" y2="100.2" stroke="#4a4a4a" stroke-width="0.8"/>
<text transform="translate(598.40,110.3) scale(1,0.86)" font-size="8.7" text-anchor="middle" font-weight="bold">50</text>
<line x1="619.6" y1="102.2" x2="619.6" y2="100.2" stroke="#4a4a4a" stroke-width="0.8"/>
<text transform="translate(619.80,110.3) scale(1,0.86)" font-size="8.7" text-anchor="middle" font-weight="bold">60</text>
<line x1="641.0" y1="102.2" x2="641.0" y2="100.2" stroke="#4a4a4a" stroke-width="0.8"/>
<text transform="translate(641.20,110.3) scale(1,0.86)" font-size="8.7" text-anchor="middle" font-weight="bold">70</text>
<line x1="662.4" y1="102.2" x2="662.4" y2="100.2" stroke="#4a4a4a" stroke-width="0.8"/>
<text transform="translate(662.60,110.3) scale(1,0.86)" font-size="8.7" text-anchor="middle" font-weight="bold">80</text>
<line x1="523.3" y1="102.2" x2="523.3" y2="101.0" stroke="#4a4a4a" stroke-width="0.7"/>
<line x1="544.7" y1="102.2" x2="544.7" y2="101.0" stroke="#4a4a4a" stroke-width="0.7"/>
<line x1="566.1" y1="102.2" x2="566.1" y2="101.0" stroke="#4a4a4a" stroke-width="0.7"/>
<line x1="587.5" y1="102.2" x2="587.5" y2="101.0" stroke="#4a4a4a" stroke-width="0.7"/>
<line x1="608.9" y1="102.2" x2="608.9" y2="101.0" stroke="#4a4a4a" stroke-width="0.7"/>
<line x1="630.3" y1="102.2" x2="630.3" y2="101.0" stroke="#4a4a4a" stroke-width="0.7"/>
<line x1="651.7" y1="102.2" x2="651.7" y2="101.0" stroke="#4a4a4a" stroke-width="0.7"/>
<text transform="translate(587.6,120.9) scale(1,0.8)" font-size="11.9" text-anchor="middle" font-weight="bold">degree (2&#952;)</text>
<text transform="translate(505.4,55.8) rotate(-90)" font-size="10" text-anchor="middle" font-weight="bold">Intensity (a.u.)</text>
<text transform="translate(657.9,47.9) scale(1,0.84)" font-size="11.9" text-anchor="end" font-weight="bold">before</text>
<text transform="translate(658.8,91.3) scale(1,0.84)" font-size="12.1" text-anchor="end" font-weight="bold">after</text>
<path d="M383.5 241.7 L384.18 238.28 L385.14 233.49 L386.26 227.85 L387.45 221.85 L388.59 216 L389.58 210.78 L390.44 206.06 L391.24 201.4 L392 196.88 L392.72 192.59 L393.42 188.6 L394.09 185.02 L394.73 181.92 L395.34 179.24 L395.91 176.87 L396.47 174.7 L397.02 172.62 L397.58 170.5 L398.15 168.39 L398.71 166.38 L399.27 164.45 L399.82 162.58 L400.38 160.76 L400.94 158.95 L401.51 157.14 L402.07 155.36 L402.64 153.62 L403.21 151.93 L403.78 150.32 L404.34 148.8 L404.92 147.36 L405.52 145.99 L406.11 144.7 L406.69 143.48 L407.24 142.35 L407.75 141.3 L408.2 140.36 L408.61 139.51 L408.99 138.74 L409.35 138.05 L409.71 137.39 L410.09 136.77 L410.47 136.2 L410.84 135.69 L411.22 135.23 L411.59 134.8 L411.96 134.38 L412.34 133.96 L412.7 133.54 L413.02 133.14 L413.35 132.75 L413.7 132.37 L414.13 132 L414.64 131.62 L415.27 131.26 L415.99 130.93 L416.78 130.6 L417.59 130.25 L418.41 129.87 L419.19 129.44 L420 128.9 L420.86 128.26 L421.73 127.58 L422.53 126.94 L423.21 126.39 L423.7 126" fill="none" stroke="#000" stroke-width="1.3"/>
<line x1="423.7" y1="126.0" x2="426.15" y2="240.3" stroke="#ff1a1a" stroke-width="1.3" stroke-dasharray="5.2 3.0"/>
<path d="M426.15 241.7 L426.82 238.39 L427.75 233.76 L428.86 228.3 L430.02 222.49 L431.15 216.82 L432.12 211.77 L432.96 207.2 L433.75 202.69 L434.49 198.31 L435.2 194.16 L435.88 190.3 L436.54 186.83 L437.17 183.83 L437.76 181.24 L438.33 178.95 L438.87 176.85 L439.42 174.83 L439.97 172.78 L440.52 170.73 L441.07 168.79 L441.62 166.92 L442.17 165.11 L442.72 163.34 L443.27 161.59 L443.82 159.85 L444.38 158.12 L444.93 156.43 L445.49 154.8 L446.05 153.24 L446.61 151.77 L447.17 150.38 L447.76 149.05 L448.34 147.8 L448.91 146.62 L449.45 145.53 L449.95 144.51 L450.39 143.6 L450.79 142.78 L451.16 142.04 L451.52 141.36 L451.88 140.73 L452.24 140.13 L452.61 139.57 L452.98 139.08 L453.35 138.64 L453.72 138.22 L454.08 137.82 L454.45 137.41 L454.8 137 L455.12 136.61 L455.44 136.24 L455.79 135.87 L456.2 135.51 L456.71 135.14 L457.33 134.79 L458.03 134.47 L458.81 134.15 L459.61 133.81 L460.41 133.45 L461.17 133.03 L461.97 132.5 L462.82 131.88 L463.67 131.23 L464.45 130.61 L465.12 130.08 L465.6 129.7" fill="none" stroke="#000" stroke-width="1.3"/>
<line x1="465.6" y1="129.7" x2="468.80" y2="240.3" stroke="#ff1a1a" stroke-width="1.3" stroke-dasharray="5.2 3.0"/>
<path d="M468.8 241.7 L469.48 238.43 L470.44 233.86 L471.57 228.47 L472.76 222.74 L473.9 217.15 L474.9 212.17 L475.75 207.66 L476.56 203.21 L477.32 198.89 L478.05 194.79 L478.74 190.99 L479.42 187.57 L480.06 184.6 L480.66 182.05 L481.24 179.79 L481.8 177.72 L482.35 175.72 L482.92 173.7 L483.48 171.68 L484.05 169.76 L484.61 167.92 L485.16 166.14 L485.72 164.39 L486.28 162.66 L486.85 160.94 L487.42 159.24 L487.99 157.58 L488.56 155.97 L489.13 154.43 L489.7 152.97 L490.28 151.6 L490.87 150.29 L491.47 149.06 L492.05 147.9 L492.6 146.81 L493.11 145.81 L493.56 144.91 L493.97 144.1 L494.35 143.37 L494.72 142.7 L495.08 142.08 L495.45 141.49 L495.83 140.94 L496.21 140.46 L496.59 140.02 L496.96 139.61 L497.34 139.21 L497.71 138.81 L498.07 138.4 L498.39 138.02 L498.72 137.65 L499.08 137.29 L499.5 136.93 L500.02 136.57 L500.65 136.23 L501.37 135.91 L502.16 135.59 L502.98 135.26 L503.8 134.9 L504.58 134.48 L505.39 133.96 L506.26 133.35 L507.12 132.71 L507.93 132.09 L508.61 131.57 L509.1 131.2" fill="none" stroke="#000" stroke-width="1.3"/>
<line x1="509.1" y1="131.2" x2="511.45" y2="240.3" stroke="#ff1a1a" stroke-width="1.3" stroke-dasharray="5.2 3.0"/>
<path d="M511.45 241.7 L512.1 238.53 L513.02 234.09 L514.1 228.86 L515.24 223.29 L516.34 217.86 L517.3 213.03 L518.12 208.65 L518.89 204.32 L519.62 200.13 L520.32 196.15 L520.99 192.46 L521.63 189.14 L522.25 186.26 L522.83 183.77 L523.38 181.58 L523.92 179.57 L524.45 177.63 L524.99 175.67 L525.53 173.71 L526.07 171.85 L526.61 170.06 L527.14 168.33 L527.68 166.63 L528.22 164.95 L528.76 163.28 L529.31 161.63 L529.85 160.01 L530.4 158.45 L530.94 156.95 L531.49 155.54 L532.05 154.21 L532.62 152.94 L533.19 151.74 L533.75 150.61 L534.28 149.56 L534.76 148.59 L535.2 147.71 L535.59 146.93 L535.96 146.22 L536.31 145.57 L536.65 144.97 L537.01 144.39 L537.38 143.86 L537.74 143.39 L538.1 142.96 L538.46 142.56 L538.82 142.18 L539.18 141.79 L539.52 141.4 L539.83 141.02 L540.15 140.66 L540.49 140.31 L540.89 139.96 L541.39 139.61 L541.99 139.28 L542.69 138.97 L543.44 138.66 L544.23 138.34 L545.01 137.99 L545.76 137.59 L546.54 137.08 L547.37 136.49 L548.21 135.87 L548.98 135.27 L549.63 134.76 L550.1 134.4" fill="none" stroke="#000" stroke-width="1.3"/>
<line x1="550.1" y1="134.4" x2="554.10" y2="240.3" stroke="#ff1a1a" stroke-width="1.3" stroke-dasharray="5.2 3.0"/>
<path d="M554.1 241.7 L554.77 238.57 L555.72 234.2 L556.83 229.05 L558 223.57 L559.13 218.22 L560.11 213.46 L560.95 209.14 L561.74 204.88 L562.49 200.75 L563.21 196.83 L563.89 193.19 L564.56 189.92 L565.19 187.08 L565.79 184.64 L566.35 182.48 L566.9 180.49 L567.45 178.59 L568.01 176.65 L568.57 174.72 L569.12 172.89 L569.67 171.13 L570.22 169.42 L570.77 167.75 L571.32 166.1 L571.88 164.45 L572.44 162.82 L573 161.23 L573.56 159.69 L574.12 158.22 L574.69 156.83 L575.26 155.51 L575.84 154.26 L576.43 153.08 L577 151.97 L577.55 150.94 L578.05 149.98 L578.49 149.11 L578.9 148.34 L579.27 147.64 L579.63 147 L579.99 146.41 L580.36 145.84 L580.73 145.32 L581.1 144.85 L581.47 144.43 L581.84 144.04 L582.21 143.66 L582.58 143.27 L582.93 142.89 L583.25 142.52 L583.58 142.17 L583.93 141.82 L584.34 141.48 L584.85 141.14 L585.47 140.81 L586.19 140.5 L586.96 140.2 L587.77 139.88 L588.57 139.54 L589.35 139.14 L590.14 138.64 L591 138.06 L591.85 137.44 L592.65 136.86 L593.32 136.35 L593.8 136" fill="none" stroke="#000" stroke-width="1.3"/>
<line x1="593.8" y1="136.0" x2="596.75" y2="240.3" stroke="#ff1a1a" stroke-width="1.3" stroke-dasharray="5.2 3.0"/>
<path d="M596.75 241.7 L597.42 238.65 L598.35 234.39 L599.45 229.37 L600.61 224.03 L601.73 218.82 L602.7 214.18 L603.54 209.97 L604.33 205.82 L605.07 201.8 L605.78 197.98 L606.46 194.43 L607.12 191.24 L607.75 188.48 L608.34 186.09 L608.9 183.99 L609.44 182.06 L609.98 180.2 L610.53 178.32 L611.09 176.43 L611.64 174.64 L612.18 172.93 L612.73 171.27 L613.27 169.64 L613.82 168.03 L614.38 166.42 L614.93 164.84 L615.49 163.29 L616.04 161.78 L616.6 160.35 L617.15 158.99 L617.72 157.71 L618.3 156.5 L618.88 155.35 L619.45 154.26 L619.99 153.25 L620.48 152.32 L620.93 151.48 L621.33 150.73 L621.7 150.05 L622.06 149.42 L622.41 148.84 L622.78 148.29 L623.15 147.78 L623.52 147.33 L623.88 146.92 L624.25 146.54 L624.61 146.16 L624.98 145.79 L625.33 145.42 L625.65 145.06 L625.97 144.71 L626.32 144.37 L626.73 144.04 L627.23 143.7 L627.85 143.38 L628.55 143.09 L629.32 142.79 L630.12 142.48 L630.92 142.15 L631.69 141.76 L632.48 141.28 L633.32 140.71 L634.17 140.11 L634.96 139.53 L635.62 139.05 L636.1 138.7" fill="none" stroke="#000" stroke-width="1.3"/>
<line x1="636.1" y1="138.7" x2="639.40" y2="240.3" stroke="#ff1a1a" stroke-width="1.3" stroke-dasharray="5.2 3.0"/>
<rect x="383.5" y="6.7" width="299.6" height="235.1" fill="none" stroke="#4a4a4a" stroke-width="1.45"/>
<line x1="383.5" y1="163.4" x2="387.5" y2="163.4" stroke="#4a4a4a" stroke-width="1.2"/>
<line x1="383.5" y1="85.2" x2="387.5" y2="85.2" stroke="#4a4a4a" stroke-width="1.2"/>
<line x1="383.5" y1="202.6" x2="385.7" y2="202.6" stroke="#4a4a4a" stroke-width="1.1"/>
<line x1="383.5" y1="124.3" x2="385.7" y2="124.3" stroke="#4a4a4a" stroke-width="1.1"/>
<line x1="383.5" y1="46.1" x2="385.7" y2="46.1" stroke="#4a4a4a" stroke-width="1.1"/>
<circle cx="423.7" cy="126.0" r="2.0" fill="#ff1a1a"/>
<circle cx="426.15" cy="240.1" r="2.0" fill="#ff1a1a"/>
<circle cx="465.6" cy="129.7" r="2.0" fill="#ff1a1a"/>
<circle cx="468.80" cy="240.1" r="2.0" fill="#ff1a1a"/>
<circle cx="509.1" cy="131.2" r="2.0" fill="#ff1a1a"/>
<circle cx="511.45" cy="240.1" r="2.0" fill="#ff1a1a"/>
<circle cx="550.1" cy="134.4" r="2.0" fill="#ff1a1a"/>
<circle cx="554.10" cy="240.1" r="2.0" fill="#ff1a1a"/>
<circle cx="593.8" cy="136.0" r="2.0" fill="#ff1a1a"/>
<circle cx="596.75" cy="240.1" r="2.0" fill="#ff1a1a"/>
<circle cx="636.1" cy="138.7" r="2.0" fill="#ff1a1a"/>
<circle cx="639.40" cy="240.1" r="2.0" fill="#ff1a1a"/>
<text x="379.1" y="246.7" font-size="14.5" text-anchor="end" font-weight="bold" fill="#000" >0</text>
<text x="379.1" y="168.45" font-size="14.5" text-anchor="end" font-weight="bold" fill="#000" >50</text>
<text x="379.1" y="90.2" font-size="14.5" text-anchor="end" font-weight="bold" fill="#000" >100</text>
<text x="379.1" y="11.95" font-size="14.5" text-anchor="end" font-weight="bold" fill="#000" >150</text>
<text x="383.8" y="258.4" font-size="14.5" text-anchor="middle" font-weight="bold" fill="#000" >0</text>
<text x="469.1" y="258.4" font-size="14.5" text-anchor="middle" font-weight="bold" fill="#000" >200</text>
<text x="554.4" y="258.4" font-size="14.5" text-anchor="middle" font-weight="bold" fill="#000" >400</text>
<text x="639.7" y="258.4" font-size="14.5" text-anchor="middle" font-weight="bold" fill="#000" >600</text>
<text x="533.5" y="275.9" font-size="14.8" text-anchor="middle" font-weight="bold" fill="#000" >Time (min)</text>
<text transform="translate(348.3,118.2) rotate(-90)" font-size="14.5" text-anchor="middle" font-weight="bold">BR46 Removal (%)</text>
<text x="393.4" y="29.6" font-size="18.5" text-anchor="start" font-weight="normal" fill="#000" >(b)</text>
</svg>
</body></html>
